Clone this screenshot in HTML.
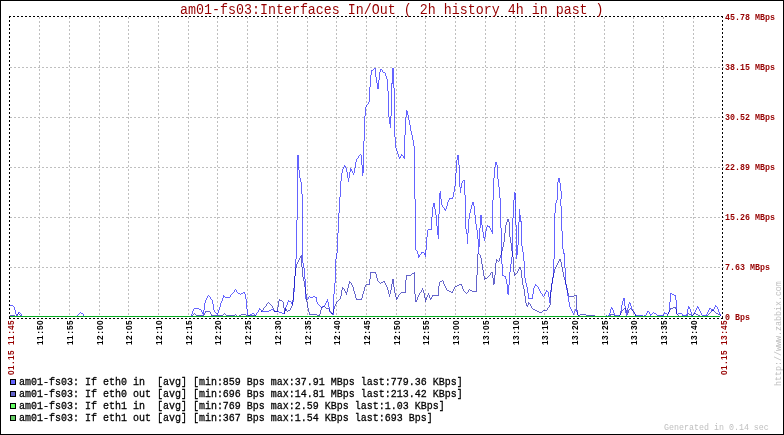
<!DOCTYPE html>
<html><head><meta charset="utf-8"><style>
html,body{margin:0;padding:0;background:#fff;}
#c{position:relative;width:784px;height:435px;overflow:hidden;background:#fff;}
#c svg{position:absolute;left:0;top:0;}
</style></head><body><div id="c">
<svg width="784" height="435" viewBox="0 0 784 435" shape-rendering="crispEdges">
<rect x="0.5" y="0.5" width="783" height="434" fill="#fff" stroke="#000"/>
<line x1="39.5" y1="17" x2="39.5" y2="317" stroke="#bfbfbf" stroke-dasharray="2 2"/>
<line x1="69.5" y1="17" x2="69.5" y2="317" stroke="#bfbfbf" stroke-dasharray="2 2"/>
<line x1="99.5" y1="17" x2="99.5" y2="317" stroke="#bfbfbf" stroke-dasharray="2 2"/>
<line x1="128.5" y1="17" x2="128.5" y2="317" stroke="#bfbfbf" stroke-dasharray="2 2"/>
<line x1="158.5" y1="17" x2="158.5" y2="317" stroke="#bfbfbf" stroke-dasharray="2 2"/>
<line x1="188.5" y1="17" x2="188.5" y2="317" stroke="#bfbfbf" stroke-dasharray="2 2"/>
<line x1="217.5" y1="17" x2="217.5" y2="317" stroke="#bfbfbf" stroke-dasharray="2 2"/>
<line x1="247.5" y1="17" x2="247.5" y2="317" stroke="#bfbfbf" stroke-dasharray="2 2"/>
<line x1="277.5" y1="17" x2="277.5" y2="317" stroke="#bfbfbf" stroke-dasharray="2 2"/>
<line x1="307.5" y1="17" x2="307.5" y2="317" stroke="#bfbfbf" stroke-dasharray="2 2"/>
<line x1="336.5" y1="17" x2="336.5" y2="317" stroke="#bfbfbf" stroke-dasharray="2 2"/>
<line x1="366.5" y1="17" x2="366.5" y2="317" stroke="#bfbfbf" stroke-dasharray="2 2"/>
<line x1="396.5" y1="17" x2="396.5" y2="317" stroke="#bfbfbf" stroke-dasharray="2 2"/>
<line x1="425.5" y1="17" x2="425.5" y2="317" stroke="#bfbfbf" stroke-dasharray="2 2"/>
<line x1="455.5" y1="17" x2="455.5" y2="317" stroke="#bfbfbf" stroke-dasharray="2 2"/>
<line x1="485.5" y1="17" x2="485.5" y2="317" stroke="#bfbfbf" stroke-dasharray="2 2"/>
<line x1="515.5" y1="17" x2="515.5" y2="317" stroke="#bfbfbf" stroke-dasharray="2 2"/>
<line x1="544.5" y1="17" x2="544.5" y2="317" stroke="#bfbfbf" stroke-dasharray="2 2"/>
<line x1="574.5" y1="17" x2="574.5" y2="317" stroke="#bfbfbf" stroke-dasharray="2 2"/>
<line x1="604.5" y1="17" x2="604.5" y2="317" stroke="#bfbfbf" stroke-dasharray="2 2"/>
<line x1="633.5" y1="17" x2="633.5" y2="317" stroke="#bfbfbf" stroke-dasharray="2 2"/>
<line x1="663.5" y1="17" x2="663.5" y2="317" stroke="#bfbfbf" stroke-dasharray="2 2"/>
<line x1="693.5" y1="17" x2="693.5" y2="317" stroke="#bfbfbf" stroke-dasharray="2 2"/>
<line x1="10" y1="67.5" x2="724" y2="67.5" stroke="#bfbfbf" stroke-dasharray="2 2"/>
<line x1="10" y1="117.5" x2="724" y2="117.5" stroke="#bfbfbf" stroke-dasharray="2 2"/>
<line x1="10" y1="167.5" x2="724" y2="167.5" stroke="#bfbfbf" stroke-dasharray="2 2"/>
<line x1="10" y1="217.5" x2="724" y2="217.5" stroke="#bfbfbf" stroke-dasharray="2 2"/>
<line x1="10" y1="267.5" x2="724" y2="267.5" stroke="#bfbfbf" stroke-dasharray="2 2"/>
<line x1="9" y1="16.5" x2="723" y2="16.5" stroke="#000" stroke-dasharray="2 2"/>
<line x1="9.5" y1="16" x2="9.5" y2="319" stroke="#000" stroke-dasharray="2 2"/>
<line x1="722.5" y1="16" x2="722.5" y2="319" stroke="#000" stroke-dasharray="2 2"/>
<line x1="9" y1="318.5" x2="723" y2="318.5" stroke="#000" stroke-dasharray="2 2"/>
<path d="M374 68h2v1h-2zM392 68h2v1h-2zM373 69h1v1h-1zM375 69h1v1h-1zM380 69h2v1h-2zM392 69h2v1h-2zM371 70h2v1h-2zM375 70h1v1h-1zM380 70h1v1h-1zM382 70h1v1h-1zM392 70h2v1h-2zM371 71h1v1h-1zM375 71h1v1h-1zM380 71h1v1h-1zM382 71h1v1h-1zM392 71h2v1h-2zM371 72h1v1h-1zM375 72h1v1h-1zM379 72h1v1h-1zM383 72h2v1h-2zM392 72h2v1h-2zM371 73h1v1h-1zM375 73h1v1h-1zM379 73h1v1h-1zM385 73h1v1h-1zM392 73h2v1h-2zM371 74h1v1h-1zM375 74h1v1h-1zM379 74h1v1h-1zM385 74h1v1h-1zM392 74h2v1h-2zM370 75h1v1h-1zM375 75h1v1h-1zM379 75h1v1h-1zM385 75h1v1h-1zM392 75h2v1h-2zM370 76h1v1h-1zM375 76h1v1h-1zM379 76h1v1h-1zM386 76h1v1h-1zM392 76h2v1h-2zM370 77h1v1h-1zM376 77h1v1h-1zM379 77h1v1h-1zM386 77h1v1h-1zM392 77h2v1h-2zM370 78h1v1h-1zM376 78h1v1h-1zM379 78h1v1h-1zM386 78h1v1h-1zM392 78h2v1h-2zM370 79h1v1h-1zM376 79h1v1h-1zM379 79h1v1h-1zM387 79h1v1h-1zM392 79h2v1h-2zM370 80h1v1h-1zM376 80h1v1h-1zM378 80h1v1h-1zM387 80h1v1h-1zM392 80h2v1h-2zM370 81h1v1h-1zM376 81h1v1h-1zM378 81h1v1h-1zM387 81h1v1h-1zM392 81h2v1h-2zM370 82h1v1h-1zM376 82h1v1h-1zM378 82h1v1h-1zM387 82h1v1h-1zM392 82h2v1h-2zM370 83h1v1h-1zM377 83h2v1h-2zM387 83h1v1h-1zM391 83h3v1h-3zM370 84h1v1h-1zM377 84h2v1h-2zM387 84h1v1h-1zM391 84h1v1h-1zM393 84h1v1h-1zM370 85h1v1h-1zM377 85h2v1h-2zM387 85h1v1h-1zM391 85h1v1h-1zM393 85h1v1h-1zM370 86h1v1h-1zM377 86h2v1h-2zM387 86h1v1h-1zM391 86h1v1h-1zM393 86h1v1h-1zM369 87h1v1h-1zM377 87h2v1h-2zM387 87h1v1h-1zM391 87h1v1h-1zM393 87h1v1h-1zM369 88h1v1h-1zM377 88h2v1h-2zM387 88h1v1h-1zM391 88h1v1h-1zM394 88h1v1h-1zM369 89h1v1h-1zM387 89h1v1h-1zM391 89h1v1h-1zM394 89h1v1h-1zM369 90h1v1h-1zM387 90h1v1h-1zM391 90h1v1h-1zM394 90h1v1h-1zM369 91h1v1h-1zM388 91h1v1h-1zM391 91h1v1h-1zM394 91h1v1h-1zM369 92h1v1h-1zM388 92h1v1h-1zM391 92h1v1h-1zM394 92h1v1h-1zM369 93h1v1h-1zM388 93h1v1h-1zM391 93h1v1h-1zM394 93h1v1h-1zM369 94h1v1h-1zM388 94h1v1h-1zM391 94h1v1h-1zM394 94h1v1h-1zM369 95h1v1h-1zM388 95h1v1h-1zM391 95h1v1h-1zM394 95h1v1h-1zM369 96h1v1h-1zM388 96h1v1h-1zM391 96h1v1h-1zM394 96h1v1h-1zM369 97h1v1h-1zM388 97h1v1h-1zM391 97h1v1h-1zM394 97h1v1h-1zM369 98h1v1h-1zM388 98h1v1h-1zM391 98h1v1h-1zM394 98h1v1h-1zM369 99h1v1h-1zM388 99h1v1h-1zM391 99h1v1h-1zM394 99h1v1h-1zM369 100h1v1h-1zM388 100h1v1h-1zM391 100h1v1h-1zM394 100h1v1h-1zM369 101h1v1h-1zM388 101h1v1h-1zM391 101h1v1h-1zM394 101h1v1h-1zM368 102h1v1h-1zM388 102h1v1h-1zM391 102h1v1h-1zM394 102h1v1h-1zM368 103h1v1h-1zM388 103h1v1h-1zM391 103h1v1h-1zM394 103h1v1h-1zM367 104h1v1h-1zM388 104h1v1h-1zM391 104h1v1h-1zM394 104h1v1h-1zM366 105h1v1h-1zM388 105h1v1h-1zM391 105h1v1h-1zM394 105h1v1h-1zM366 106h1v1h-1zM388 106h1v1h-1zM391 106h1v1h-1zM394 106h1v1h-1zM365 107h1v1h-1zM388 107h1v1h-1zM391 107h1v1h-1zM394 107h1v1h-1zM365 108h1v1h-1zM388 108h1v1h-1zM391 108h1v1h-1zM394 108h1v1h-1zM365 109h1v1h-1zM388 109h1v1h-1zM391 109h1v1h-1zM394 109h1v1h-1zM365 110h1v1h-1zM388 110h1v1h-1zM391 110h1v1h-1zM394 110h1v1h-1zM406 110h1v1h-1zM365 111h1v1h-1zM388 111h1v1h-1zM391 111h1v1h-1zM394 111h1v1h-1zM406 111h2v1h-2zM365 112h1v1h-1zM388 112h1v1h-1zM391 112h1v1h-1zM394 112h1v1h-1zM406 112h2v1h-2zM365 113h1v1h-1zM388 113h1v1h-1zM391 113h1v1h-1zM394 113h1v1h-1zM406 113h2v1h-2zM365 114h1v1h-1zM388 114h1v1h-1zM391 114h1v1h-1zM394 114h1v1h-1zM406 114h2v1h-2zM365 115h1v1h-1zM388 115h1v1h-1zM391 115h1v1h-1zM394 115h1v1h-1zM406 115h1v1h-1zM408 115h1v1h-1zM364 116h1v1h-1zM388 116h1v1h-1zM390 116h1v1h-1zM394 116h1v1h-1zM406 116h1v1h-1zM408 116h1v1h-1zM364 117h1v1h-1zM389 117h2v1h-2zM394 117h1v1h-1zM405 117h1v1h-1zM408 117h1v1h-1zM364 118h1v1h-1zM389 118h2v1h-2zM394 118h1v1h-1zM405 118h1v1h-1zM408 118h1v1h-1zM364 119h1v1h-1zM389 119h2v1h-2zM394 119h1v1h-1zM405 119h1v1h-1zM408 119h1v1h-1zM364 120h1v1h-1zM389 120h2v1h-2zM394 120h1v1h-1zM405 120h1v1h-1zM409 120h1v1h-1zM364 121h1v1h-1zM389 121h2v1h-2zM394 121h1v1h-1zM405 121h1v1h-1zM409 121h1v1h-1zM364 122h1v1h-1zM389 122h2v1h-2zM394 122h1v1h-1zM405 122h1v1h-1zM409 122h1v1h-1zM364 123h1v1h-1zM389 123h2v1h-2zM394 123h1v1h-1zM405 123h1v1h-1zM409 123h1v1h-1zM364 124h1v1h-1zM390 124h1v1h-1zM394 124h1v1h-1zM405 124h1v1h-1zM409 124h1v1h-1zM364 125h1v1h-1zM390 125h1v1h-1zM394 125h1v1h-1zM405 125h1v1h-1zM410 125h1v1h-1zM364 126h1v1h-1zM390 126h1v1h-1zM394 126h1v1h-1zM405 126h1v1h-1zM410 126h1v1h-1zM364 127h1v1h-1zM390 127h1v1h-1zM394 127h1v1h-1zM405 127h1v1h-1zM410 127h1v1h-1zM364 128h1v1h-1zM394 128h1v1h-1zM405 128h1v1h-1zM410 128h1v1h-1zM364 129h1v1h-1zM394 129h1v1h-1zM405 129h1v1h-1zM410 129h1v1h-1zM364 130h1v1h-1zM394 130h1v1h-1zM405 130h1v1h-1zM410 130h1v1h-1zM364 131h1v1h-1zM394 131h1v1h-1zM405 131h1v1h-1zM411 131h1v1h-1zM364 132h1v1h-1zM394 132h1v1h-1zM405 132h1v1h-1zM411 132h1v1h-1zM364 133h1v1h-1zM394 133h1v1h-1zM405 133h1v1h-1zM411 133h1v1h-1zM364 134h1v1h-1zM394 134h1v1h-1zM405 134h1v1h-1zM411 134h1v1h-1zM364 135h1v1h-1zM394 135h1v1h-1zM404 135h1v1h-1zM412 135h1v1h-1zM364 136h1v1h-1zM394 136h1v1h-1zM404 136h1v1h-1zM412 136h1v1h-1zM364 137h1v1h-1zM395 137h1v1h-1zM404 137h1v1h-1zM412 137h1v1h-1zM364 138h1v1h-1zM395 138h1v1h-1zM404 138h1v1h-1zM412 138h1v1h-1zM364 139h1v1h-1zM395 139h1v1h-1zM404 139h1v1h-1zM412 139h1v1h-1zM364 140h1v1h-1zM395 140h1v1h-1zM404 140h1v1h-1zM413 140h1v1h-1zM363 141h1v1h-1zM395 141h1v1h-1zM404 141h1v1h-1zM413 141h1v1h-1zM363 142h1v1h-1zM395 142h1v1h-1zM404 142h1v1h-1zM413 142h1v1h-1zM363 143h1v1h-1zM395 143h1v1h-1zM404 143h1v1h-1zM413 143h1v1h-1zM363 144h1v1h-1zM395 144h1v1h-1zM404 144h1v1h-1zM413 144h1v1h-1zM363 145h1v1h-1zM395 145h1v1h-1zM404 145h1v1h-1zM413 145h1v1h-1zM363 146h1v1h-1zM395 146h1v1h-1zM404 146h1v1h-1zM414 146h1v1h-1zM363 147h1v1h-1zM395 147h1v1h-1zM404 147h1v1h-1zM414 147h1v1h-1zM363 148h1v1h-1zM396 148h1v1h-1zM404 148h1v1h-1zM414 148h1v1h-1zM363 149h1v1h-1zM396 149h1v1h-1zM404 149h1v1h-1zM414 149h1v1h-1zM363 150h1v1h-1zM396 150h1v1h-1zM404 150h1v1h-1zM414 150h1v1h-1zM363 151h1v1h-1zM397 151h1v1h-1zM404 151h1v1h-1zM414 151h1v1h-1zM363 152h1v1h-1zM397 152h1v1h-1zM404 152h1v1h-1zM414 152h1v1h-1zM363 153h1v1h-1zM397 153h1v1h-1zM404 153h1v1h-1zM414 153h1v1h-1zM360 154h1v1h-1zM363 154h1v1h-1zM398 154h1v1h-1zM401 154h1v1h-1zM404 154h1v1h-1zM414 154h1v1h-1zM297 155h2v1h-2zM359 155h1v1h-1zM361 155h1v1h-1zM363 155h1v1h-1zM398 155h1v1h-1zM401 155h2v1h-2zM404 155h1v1h-1zM414 155h1v1h-1zM457 155h2v1h-2zM297 156h2v1h-2zM358 156h1v1h-1zM361 156h1v1h-1zM363 156h1v1h-1zM398 156h1v1h-1zM400 156h1v1h-1zM403 156h2v1h-2zM414 156h1v1h-1zM457 156h2v1h-2zM297 157h2v1h-2zM358 157h1v1h-1zM361 157h1v1h-1zM363 157h1v1h-1zM399 157h2v1h-2zM403 157h2v1h-2zM414 157h1v1h-1zM457 157h2v1h-2zM297 158h2v1h-2zM357 158h1v1h-1zM361 158h1v1h-1zM363 158h1v1h-1zM399 158h1v1h-1zM404 158h1v1h-1zM414 158h1v1h-1zM457 158h2v1h-2zM297 159h2v1h-2zM356 159h1v1h-1zM361 159h1v1h-1zM363 159h1v1h-1zM414 159h1v1h-1zM457 159h2v1h-2zM297 160h2v1h-2zM356 160h1v1h-1zM361 160h1v1h-1zM363 160h1v1h-1zM414 160h1v1h-1zM456 160h1v1h-1zM458 160h1v1h-1zM297 161h2v1h-2zM356 161h1v1h-1zM361 161h1v1h-1zM363 161h1v1h-1zM414 161h1v1h-1zM456 161h1v1h-1zM458 161h1v1h-1zM297 162h2v1h-2zM355 162h1v1h-1zM361 162h1v1h-1zM363 162h1v1h-1zM414 162h1v1h-1zM456 162h1v1h-1zM458 162h1v1h-1zM495 162h2v1h-2zM297 163h2v1h-2zM355 163h1v1h-1zM361 163h1v1h-1zM363 163h1v1h-1zM414 163h1v1h-1zM456 163h1v1h-1zM458 163h1v1h-1zM495 163h2v1h-2zM297 164h2v1h-2zM355 164h1v1h-1zM361 164h1v1h-1zM363 164h1v1h-1zM414 164h1v1h-1zM456 164h1v1h-1zM458 164h1v1h-1zM495 164h2v1h-2zM297 165h2v1h-2zM344 165h1v1h-1zM355 165h1v1h-1zM362 165h2v1h-2zM414 165h1v1h-1zM456 165h1v1h-1zM459 165h1v1h-1zM495 165h1v1h-1zM497 165h1v1h-1zM297 166h2v1h-2zM344 166h2v1h-2zM355 166h1v1h-1zM362 166h2v1h-2zM414 166h1v1h-1zM456 166h1v1h-1zM459 166h1v1h-1zM495 166h1v1h-1zM497 166h1v1h-1zM297 167h2v1h-2zM343 167h1v1h-1zM345 167h1v1h-1zM355 167h1v1h-1zM362 167h2v1h-2zM414 167h1v1h-1zM456 167h1v1h-1zM459 167h1v1h-1zM494 167h1v1h-1zM497 167h1v1h-1zM297 168h2v1h-2zM343 168h1v1h-1zM346 168h1v1h-1zM350 168h1v1h-1zM354 168h1v1h-1zM362 168h2v1h-2zM414 168h1v1h-1zM456 168h1v1h-1zM459 168h1v1h-1zM494 168h1v1h-1zM497 168h1v1h-1zM297 169h2v1h-2zM342 169h1v1h-1zM346 169h1v1h-1zM350 169h2v1h-2zM354 169h1v1h-1zM362 169h2v1h-2zM414 169h1v1h-1zM456 169h1v1h-1zM459 169h1v1h-1zM494 169h1v1h-1zM497 169h1v1h-1zM297 170h1v1h-1zM299 170h1v1h-1zM342 170h1v1h-1zM346 170h1v1h-1zM350 170h2v1h-2zM354 170h1v1h-1zM362 170h2v1h-2zM414 170h1v1h-1zM456 170h1v1h-1zM459 170h1v1h-1zM494 170h1v1h-1zM497 170h1v1h-1zM297 171h1v1h-1zM299 171h1v1h-1zM342 171h1v1h-1zM346 171h1v1h-1zM350 171h1v1h-1zM352 171h1v1h-1zM354 171h1v1h-1zM362 171h2v1h-2zM414 171h1v1h-1zM456 171h1v1h-1zM459 171h1v1h-1zM494 171h1v1h-1zM497 171h1v1h-1zM297 172h1v1h-1zM299 172h1v1h-1zM342 172h1v1h-1zM347 172h1v1h-1zM349 172h1v1h-1zM352 172h1v1h-1zM354 172h1v1h-1zM362 172h2v1h-2zM414 172h1v1h-1zM456 172h1v1h-1zM459 172h1v1h-1zM494 172h1v1h-1zM497 172h1v1h-1zM297 173h1v1h-1zM299 173h1v1h-1zM341 173h1v1h-1zM347 173h1v1h-1zM349 173h1v1h-1zM353 173h1v1h-1zM362 173h1v1h-1zM414 173h1v1h-1zM455 173h1v1h-1zM459 173h1v1h-1zM494 173h1v1h-1zM497 173h1v1h-1zM297 174h1v1h-1zM299 174h1v1h-1zM341 174h1v1h-1zM347 174h1v1h-1zM349 174h1v1h-1zM353 174h1v1h-1zM362 174h1v1h-1zM414 174h1v1h-1zM455 174h1v1h-1zM459 174h1v1h-1zM494 174h1v1h-1zM497 174h1v1h-1zM297 175h1v1h-1zM299 175h1v1h-1zM341 175h1v1h-1zM347 175h1v1h-1zM349 175h1v1h-1zM362 175h1v1h-1zM414 175h1v1h-1zM455 175h1v1h-1zM459 175h1v1h-1zM494 175h1v1h-1zM497 175h1v1h-1zM297 176h1v1h-1zM299 176h1v1h-1zM341 176h1v1h-1zM347 176h1v1h-1zM349 176h1v1h-1zM414 176h1v1h-1zM455 176h1v1h-1zM459 176h1v1h-1zM494 176h1v1h-1zM497 176h1v1h-1zM297 177h1v1h-1zM299 177h1v1h-1zM341 177h1v1h-1zM347 177h1v1h-1zM349 177h1v1h-1zM414 177h1v1h-1zM455 177h1v1h-1zM459 177h1v1h-1zM494 177h1v1h-1zM497 177h1v1h-1zM297 178h1v1h-1zM300 178h1v1h-1zM341 178h1v1h-1zM348 178h1v1h-1zM414 178h1v1h-1zM455 178h1v1h-1zM459 178h1v1h-1zM493 178h1v1h-1zM497 178h1v1h-1zM558 178h2v1h-2zM297 179h1v1h-1zM300 179h1v1h-1zM341 179h1v1h-1zM348 179h1v1h-1zM414 179h1v1h-1zM455 179h1v1h-1zM459 179h1v1h-1zM493 179h1v1h-1zM498 179h1v1h-1zM558 179h2v1h-2zM297 180h1v1h-1zM300 180h1v1h-1zM341 180h1v1h-1zM348 180h1v1h-1zM414 180h1v1h-1zM455 180h1v1h-1zM459 180h1v1h-1zM463 180h2v1h-2zM493 180h1v1h-1zM498 180h1v1h-1zM558 180h2v1h-2zM297 181h1v1h-1zM300 181h1v1h-1zM340 181h1v1h-1zM348 181h1v1h-1zM414 181h1v1h-1zM455 181h1v1h-1zM459 181h1v1h-1zM462 181h1v1h-1zM464 181h1v1h-1zM493 181h1v1h-1zM498 181h1v1h-1zM558 181h2v1h-2zM297 182h1v1h-1zM301 182h1v1h-1zM340 182h1v1h-1zM414 182h1v1h-1zM455 182h1v1h-1zM459 182h1v1h-1zM462 182h1v1h-1zM464 182h1v1h-1zM493 182h1v1h-1zM498 182h1v1h-1zM557 182h1v1h-1zM559 182h1v1h-1zM297 183h1v1h-1zM301 183h1v1h-1zM340 183h1v1h-1zM414 183h1v1h-1zM455 183h1v1h-1zM459 183h1v1h-1zM461 183h1v1h-1zM464 183h1v1h-1zM493 183h1v1h-1zM498 183h1v1h-1zM557 183h1v1h-1zM560 183h1v1h-1zM297 184h1v1h-1zM301 184h1v1h-1zM340 184h1v1h-1zM414 184h1v1h-1zM455 184h1v1h-1zM459 184h1v1h-1zM461 184h1v1h-1zM464 184h1v1h-1zM493 184h1v1h-1zM498 184h1v1h-1zM557 184h1v1h-1zM560 184h1v1h-1zM297 185h1v1h-1zM301 185h1v1h-1zM340 185h1v1h-1zM414 185h1v1h-1zM455 185h1v1h-1zM459 185h1v1h-1zM461 185h1v1h-1zM464 185h1v1h-1zM493 185h1v1h-1zM498 185h1v1h-1zM557 185h1v1h-1zM560 185h1v1h-1zM297 186h1v1h-1zM301 186h1v1h-1zM340 186h1v1h-1zM414 186h1v1h-1zM454 186h1v1h-1zM459 186h1v1h-1zM461 186h1v1h-1zM464 186h1v1h-1zM493 186h1v1h-1zM498 186h1v1h-1zM557 186h1v1h-1zM560 186h1v1h-1zM297 187h1v1h-1zM301 187h1v1h-1zM340 187h1v1h-1zM414 187h1v1h-1zM454 187h1v1h-1zM460 187h2v1h-2zM464 187h1v1h-1zM493 187h1v1h-1zM499 187h1v1h-1zM557 187h1v1h-1zM560 187h1v1h-1zM297 188h1v1h-1zM301 188h1v1h-1zM340 188h1v1h-1zM414 188h1v1h-1zM454 188h1v1h-1zM460 188h1v1h-1zM464 188h1v1h-1zM493 188h1v1h-1zM499 188h1v1h-1zM557 188h1v1h-1zM560 188h1v1h-1zM297 189h1v1h-1zM301 189h1v1h-1zM340 189h1v1h-1zM414 189h1v1h-1zM454 189h1v1h-1zM460 189h1v1h-1zM464 189h1v1h-1zM493 189h1v1h-1zM499 189h1v1h-1zM557 189h1v1h-1zM560 189h1v1h-1zM297 190h1v1h-1zM301 190h1v1h-1zM340 190h1v1h-1zM414 190h1v1h-1zM454 190h1v1h-1zM460 190h1v1h-1zM464 190h1v1h-1zM493 190h1v1h-1zM499 190h1v1h-1zM557 190h1v1h-1zM560 190h1v1h-1zM297 191h1v1h-1zM301 191h1v1h-1zM340 191h1v1h-1zM414 191h1v1h-1zM440 191h1v1h-1zM454 191h1v1h-1zM460 191h1v1h-1zM464 191h1v1h-1zM493 191h1v1h-1zM499 191h1v1h-1zM557 191h1v1h-1zM561 191h1v1h-1zM297 192h1v1h-1zM301 192h1v1h-1zM340 192h1v1h-1zM414 192h1v1h-1zM440 192h1v1h-1zM453 192h1v1h-1zM460 192h1v1h-1zM464 192h1v1h-1zM493 192h1v1h-1zM499 192h1v1h-1zM514 192h1v1h-1zM557 192h1v1h-1zM561 192h1v1h-1zM297 193h1v1h-1zM301 193h1v1h-1zM340 193h1v1h-1zM414 193h1v1h-1zM439 193h2v1h-2zM453 193h1v1h-1zM464 193h1v1h-1zM493 193h1v1h-1zM499 193h1v1h-1zM514 193h2v1h-2zM557 193h1v1h-1zM561 193h1v1h-1zM297 194h1v1h-1zM302 194h1v1h-1zM340 194h1v1h-1zM414 194h1v1h-1zM439 194h2v1h-2zM453 194h1v1h-1zM464 194h1v1h-1zM493 194h1v1h-1zM499 194h1v1h-1zM514 194h2v1h-2zM557 194h1v1h-1zM561 194h1v1h-1zM297 195h1v1h-1zM302 195h1v1h-1zM340 195h1v1h-1zM414 195h1v1h-1zM439 195h2v1h-2zM453 195h1v1h-1zM465 195h1v1h-1zM493 195h1v1h-1zM499 195h1v1h-1zM514 195h2v1h-2zM557 195h1v1h-1zM561 195h1v1h-1zM297 196h1v1h-1zM302 196h1v1h-1zM340 196h1v1h-1zM414 196h1v1h-1zM439 196h2v1h-2zM453 196h1v1h-1zM465 196h1v1h-1zM493 196h1v1h-1zM499 196h1v1h-1zM514 196h2v1h-2zM557 196h1v1h-1zM561 196h1v1h-1zM297 197h1v1h-1zM302 197h1v1h-1zM339 197h1v1h-1zM414 197h1v1h-1zM439 197h2v1h-2zM452 197h1v1h-1zM465 197h1v1h-1zM493 197h1v1h-1zM499 197h1v1h-1zM514 197h2v1h-2zM557 197h1v1h-1zM561 197h1v1h-1zM297 198h1v1h-1zM302 198h1v1h-1zM339 198h1v1h-1zM414 198h1v1h-1zM439 198h2v1h-2zM449 198h4v1h-4zM465 198h1v1h-1zM493 198h1v1h-1zM500 198h1v1h-1zM514 198h2v1h-2zM557 198h1v1h-1zM561 198h1v1h-1zM297 199h1v1h-1zM302 199h1v1h-1zM339 199h1v1h-1zM415 199h1v1h-1zM439 199h1v1h-1zM441 199h1v1h-1zM449 199h1v1h-1zM465 199h1v1h-1zM493 199h1v1h-1zM500 199h1v1h-1zM514 199h2v1h-2zM557 199h1v1h-1zM560 199h1v1h-1zM297 200h1v1h-1zM302 200h1v1h-1zM339 200h1v1h-1zM415 200h1v1h-1zM439 200h1v1h-1zM441 200h1v1h-1zM448 200h1v1h-1zM465 200h1v1h-1zM492 200h1v1h-1zM500 200h1v1h-1zM513 200h1v1h-1zM515 200h1v1h-1zM556 200h1v1h-1zM560 200h1v1h-1zM297 201h1v1h-1zM302 201h1v1h-1zM339 201h1v1h-1zM415 201h1v1h-1zM439 201h1v1h-1zM441 201h1v1h-1zM448 201h1v1h-1zM465 201h1v1h-1zM492 201h1v1h-1zM500 201h1v1h-1zM513 201h1v1h-1zM515 201h1v1h-1zM556 201h1v1h-1zM560 201h1v1h-1zM297 202h1v1h-1zM302 202h1v1h-1zM339 202h1v1h-1zM415 202h1v1h-1zM439 202h1v1h-1zM441 202h1v1h-1zM447 202h1v1h-1zM465 202h1v1h-1zM472 202h2v1h-2zM492 202h1v1h-1zM500 202h1v1h-1zM513 202h1v1h-1zM515 202h1v1h-1zM556 202h1v1h-1zM560 202h1v1h-1zM297 203h1v1h-1zM302 203h1v1h-1zM339 203h1v1h-1zM415 203h1v1h-1zM433 203h2v1h-2zM439 203h1v1h-1zM441 203h1v1h-1zM447 203h1v1h-1zM465 203h1v1h-1zM472 203h2v1h-2zM492 203h1v1h-1zM500 203h1v1h-1zM513 203h1v1h-1zM515 203h1v1h-1zM555 203h1v1h-1zM560 203h1v1h-1zM297 204h1v1h-1zM302 204h1v1h-1zM339 204h1v1h-1zM415 204h1v1h-1zM433 204h2v1h-2zM439 204h1v1h-1zM441 204h1v1h-1zM447 204h1v1h-1zM465 204h1v1h-1zM472 204h2v1h-2zM492 204h1v1h-1zM500 204h1v1h-1zM513 204h1v1h-1zM515 204h1v1h-1zM555 204h1v1h-1zM560 204h1v1h-1zM297 205h1v1h-1zM302 205h1v1h-1zM339 205h1v1h-1zM415 205h1v1h-1zM433 205h2v1h-2zM439 205h1v1h-1zM442 205h1v1h-1zM447 205h1v1h-1zM465 205h1v1h-1zM471 205h1v1h-1zM473 205h1v1h-1zM492 205h1v1h-1zM500 205h1v1h-1zM513 205h1v1h-1zM515 205h1v1h-1zM555 205h1v1h-1zM560 205h1v1h-1zM297 206h1v1h-1zM302 206h1v1h-1zM339 206h1v1h-1zM415 206h1v1h-1zM433 206h2v1h-2zM439 206h1v1h-1zM442 206h1v1h-1zM446 206h1v1h-1zM465 206h1v1h-1zM471 206h1v1h-1zM474 206h1v1h-1zM492 206h1v1h-1zM500 206h1v1h-1zM513 206h1v1h-1zM515 206h1v1h-1zM555 206h1v1h-1zM561 206h1v1h-1zM297 207h1v1h-1zM302 207h1v1h-1zM339 207h1v1h-1zM415 207h1v1h-1zM432 207h1v1h-1zM434 207h1v1h-1zM439 207h1v1h-1zM443 207h1v1h-1zM446 207h1v1h-1zM465 207h1v1h-1zM471 207h1v1h-1zM474 207h1v1h-1zM492 207h1v1h-1zM500 207h1v1h-1zM513 207h1v1h-1zM515 207h1v1h-1zM555 207h1v1h-1zM561 207h1v1h-1zM297 208h1v1h-1zM302 208h1v1h-1zM339 208h1v1h-1zM415 208h1v1h-1zM432 208h1v1h-1zM434 208h1v1h-1zM439 208h1v1h-1zM444 208h1v1h-1zM446 208h1v1h-1zM465 208h1v1h-1zM471 208h1v1h-1zM474 208h1v1h-1zM492 208h1v1h-1zM500 208h1v1h-1zM513 208h1v1h-1zM515 208h1v1h-1zM555 208h1v1h-1zM561 208h1v1h-1zM297 209h1v1h-1zM302 209h1v1h-1zM339 209h1v1h-1zM415 209h1v1h-1zM432 209h1v1h-1zM435 209h1v1h-1zM439 209h1v1h-1zM444 209h2v1h-2zM465 209h1v1h-1zM470 209h1v1h-1zM474 209h1v1h-1zM492 209h1v1h-1zM500 209h1v1h-1zM513 209h1v1h-1zM515 209h1v1h-1zM519 209h1v1h-1zM555 209h1v1h-1zM561 209h1v1h-1zM297 210h1v1h-1zM302 210h1v1h-1zM339 210h1v1h-1zM415 210h1v1h-1zM432 210h1v1h-1zM435 210h1v1h-1zM439 210h1v1h-1zM445 210h1v1h-1zM465 210h1v1h-1zM470 210h1v1h-1zM474 210h1v1h-1zM492 210h1v1h-1zM500 210h1v1h-1zM513 210h1v1h-1zM515 210h1v1h-1zM519 210h1v1h-1zM555 210h1v1h-1zM561 210h1v1h-1zM297 211h1v1h-1zM302 211h1v1h-1zM339 211h1v1h-1zM415 211h1v1h-1zM432 211h1v1h-1zM435 211h1v1h-1zM439 211h1v1h-1zM465 211h1v1h-1zM470 211h1v1h-1zM474 211h1v1h-1zM492 211h1v1h-1zM500 211h1v1h-1zM513 211h1v1h-1zM515 211h1v1h-1zM519 211h1v1h-1zM555 211h1v1h-1zM561 211h1v1h-1zM297 212h1v1h-1zM302 212h1v1h-1zM339 212h1v1h-1zM415 212h1v1h-1zM432 212h1v1h-1zM435 212h1v1h-1zM439 212h1v1h-1zM465 212h1v1h-1zM470 212h1v1h-1zM474 212h1v1h-1zM492 212h1v1h-1zM500 212h1v1h-1zM513 212h1v1h-1zM515 212h1v1h-1zM519 212h1v1h-1zM555 212h1v1h-1zM561 212h1v1h-1zM297 213h1v1h-1zM302 213h1v1h-1zM338 213h1v1h-1zM415 213h1v1h-1zM432 213h1v1h-1zM435 213h1v1h-1zM439 213h1v1h-1zM465 213h1v1h-1zM469 213h1v1h-1zM474 213h1v1h-1zM492 213h1v1h-1zM500 213h1v1h-1zM513 213h1v1h-1zM515 213h1v1h-1zM519 213h1v1h-1zM554 213h1v1h-1zM561 213h1v1h-1zM297 214h1v1h-1zM302 214h1v1h-1zM338 214h1v1h-1zM415 214h1v1h-1zM432 214h1v1h-1zM435 214h1v1h-1zM438 214h1v1h-1zM465 214h1v1h-1zM469 214h1v1h-1zM474 214h1v1h-1zM492 214h1v1h-1zM500 214h1v1h-1zM513 214h1v1h-1zM515 214h1v1h-1zM519 214h1v1h-1zM554 214h1v1h-1zM561 214h1v1h-1zM297 215h1v1h-1zM302 215h1v1h-1zM338 215h1v1h-1zM415 215h1v1h-1zM432 215h1v1h-1zM436 215h1v1h-1zM438 215h1v1h-1zM465 215h1v1h-1zM469 215h1v1h-1zM475 215h1v1h-1zM480 215h2v1h-2zM492 215h1v1h-1zM500 215h1v1h-1zM513 215h1v1h-1zM515 215h1v1h-1zM519 215h2v1h-2zM554 215h1v1h-1zM561 215h1v1h-1zM297 216h1v1h-1zM302 216h1v1h-1zM338 216h1v1h-1zM415 216h1v1h-1zM432 216h1v1h-1zM436 216h1v1h-1zM438 216h1v1h-1zM465 216h1v1h-1zM469 216h1v1h-1zM475 216h1v1h-1zM480 216h2v1h-2zM492 216h1v1h-1zM500 216h1v1h-1zM513 216h1v1h-1zM515 216h1v1h-1zM519 216h2v1h-2zM554 216h1v1h-1zM561 216h1v1h-1zM297 217h1v1h-1zM302 217h1v1h-1zM338 217h1v1h-1zM415 217h1v1h-1zM431 217h1v1h-1zM436 217h1v1h-1zM438 217h1v1h-1zM465 217h1v1h-1zM469 217h1v1h-1zM475 217h1v1h-1zM480 217h2v1h-2zM492 217h1v1h-1zM500 217h1v1h-1zM513 217h1v1h-1zM515 217h1v1h-1zM519 217h2v1h-2zM554 217h1v1h-1zM561 217h1v1h-1zM297 218h1v1h-1zM302 218h1v1h-1zM338 218h1v1h-1zM415 218h1v1h-1zM431 218h1v1h-1zM436 218h1v1h-1zM438 218h1v1h-1zM465 218h1v1h-1zM469 218h1v1h-1zM475 218h1v1h-1zM480 218h2v1h-2zM492 218h1v1h-1zM500 218h1v1h-1zM512 218h1v1h-1zM515 218h1v1h-1zM519 218h2v1h-2zM554 218h1v1h-1zM561 218h1v1h-1zM297 219h1v1h-1zM302 219h1v1h-1zM338 219h1v1h-1zM415 219h1v1h-1zM431 219h1v1h-1zM436 219h1v1h-1zM438 219h1v1h-1zM465 219h1v1h-1zM468 219h1v1h-1zM475 219h1v1h-1zM480 219h2v1h-2zM492 219h1v1h-1zM500 219h1v1h-1zM512 219h1v1h-1zM515 219h1v1h-1zM519 219h2v1h-2zM554 219h1v1h-1zM561 219h1v1h-1zM296 220h1v1h-1zM302 220h1v1h-1zM338 220h1v1h-1zM415 220h1v1h-1zM431 220h1v1h-1zM436 220h1v1h-1zM438 220h1v1h-1zM465 220h1v1h-1zM468 220h1v1h-1zM475 220h1v1h-1zM480 220h2v1h-2zM492 220h1v1h-1zM500 220h1v1h-1zM512 220h1v1h-1zM515 220h1v1h-1zM519 220h2v1h-2zM554 220h1v1h-1zM561 220h1v1h-1zM296 221h1v1h-1zM302 221h1v1h-1zM338 221h1v1h-1zM415 221h1v1h-1zM431 221h1v1h-1zM436 221h1v1h-1zM438 221h1v1h-1zM465 221h1v1h-1zM468 221h1v1h-1zM475 221h1v1h-1zM480 221h2v1h-2zM492 221h1v1h-1zM500 221h1v1h-1zM512 221h1v1h-1zM515 221h1v1h-1zM519 221h3v1h-3zM554 221h1v1h-1zM561 221h1v1h-1zM296 222h1v1h-1zM302 222h1v1h-1zM338 222h1v1h-1zM415 222h1v1h-1zM431 222h1v1h-1zM436 222h1v1h-1zM438 222h1v1h-1zM465 222h1v1h-1zM468 222h1v1h-1zM475 222h1v1h-1zM480 222h2v1h-2zM492 222h1v1h-1zM500 222h1v1h-1zM512 222h1v1h-1zM515 222h1v1h-1zM518 222h1v1h-1zM521 222h1v1h-1zM554 222h1v1h-1zM561 222h1v1h-1zM296 223h1v1h-1zM302 223h1v1h-1zM338 223h1v1h-1zM415 223h1v1h-1zM431 223h1v1h-1zM436 223h1v1h-1zM438 223h1v1h-1zM465 223h1v1h-1zM468 223h1v1h-1zM475 223h1v1h-1zM480 223h2v1h-2zM492 223h1v1h-1zM500 223h1v1h-1zM512 223h1v1h-1zM515 223h1v1h-1zM518 223h1v1h-1zM521 223h1v1h-1zM554 223h1v1h-1zM561 223h1v1h-1zM296 224h1v1h-1zM302 224h1v1h-1zM338 224h1v1h-1zM415 224h1v1h-1zM431 224h1v1h-1zM436 224h1v1h-1zM438 224h1v1h-1zM465 224h1v1h-1zM468 224h1v1h-1zM476 224h1v1h-1zM480 224h2v1h-2zM492 224h1v1h-1zM500 224h1v1h-1zM512 224h1v1h-1zM515 224h1v1h-1zM518 224h1v1h-1zM521 224h1v1h-1zM554 224h1v1h-1zM561 224h1v1h-1zM296 225h1v1h-1zM302 225h1v1h-1zM338 225h1v1h-1zM415 225h1v1h-1zM431 225h1v1h-1zM436 225h1v1h-1zM438 225h1v1h-1zM465 225h1v1h-1zM468 225h1v1h-1zM476 225h1v1h-1zM480 225h1v1h-1zM482 225h1v1h-1zM487 225h1v1h-1zM492 225h1v1h-1zM500 225h1v1h-1zM512 225h1v1h-1zM516 225h1v1h-1zM518 225h1v1h-1zM521 225h1v1h-1zM554 225h1v1h-1zM561 225h1v1h-1zM296 226h1v1h-1zM302 226h1v1h-1zM338 226h1v1h-1zM415 226h1v1h-1zM431 226h1v1h-1zM437 226h2v1h-2zM465 226h1v1h-1zM468 226h1v1h-1zM476 226h1v1h-1zM480 226h1v1h-1zM482 226h1v1h-1zM487 226h3v1h-3zM492 226h1v1h-1zM500 226h1v1h-1zM512 226h1v1h-1zM516 226h1v1h-1zM518 226h1v1h-1zM521 226h1v1h-1zM554 226h1v1h-1zM561 226h1v1h-1zM296 227h1v1h-1zM302 227h1v1h-1zM338 227h1v1h-1zM415 227h1v1h-1zM431 227h1v1h-1zM437 227h2v1h-2zM465 227h1v1h-1zM468 227h1v1h-1zM476 227h1v1h-1zM480 227h1v1h-1zM482 227h1v1h-1zM486 227h1v1h-1zM489 227h1v1h-1zM492 227h1v1h-1zM500 227h1v1h-1zM512 227h1v1h-1zM516 227h1v1h-1zM518 227h1v1h-1zM521 227h1v1h-1zM554 227h1v1h-1zM561 227h1v1h-1zM296 228h1v1h-1zM302 228h1v1h-1zM338 228h1v1h-1zM415 228h1v1h-1zM431 228h1v1h-1zM437 228h2v1h-2zM465 228h1v1h-1zM468 228h1v1h-1zM476 228h1v1h-1zM479 228h1v1h-1zM482 228h1v1h-1zM486 228h1v1h-1zM490 228h1v1h-1zM492 228h1v1h-1zM501 228h1v1h-1zM512 228h1v1h-1zM516 228h1v1h-1zM518 228h1v1h-1zM521 228h1v1h-1zM554 228h1v1h-1zM561 228h1v1h-1zM296 229h1v1h-1zM302 229h1v1h-1zM338 229h1v1h-1zM415 229h1v1h-1zM428 229h4v1h-4zM437 229h2v1h-2zM466 229h1v1h-1zM468 229h1v1h-1zM476 229h1v1h-1zM479 229h1v1h-1zM482 229h1v1h-1zM486 229h1v1h-1zM490 229h1v1h-1zM492 229h1v1h-1zM501 229h1v1h-1zM512 229h1v1h-1zM516 229h1v1h-1zM518 229h1v1h-1zM521 229h1v1h-1zM554 229h1v1h-1zM561 229h1v1h-1zM296 230h1v1h-1zM302 230h1v1h-1zM338 230h1v1h-1zM415 230h1v1h-1zM427 230h1v1h-1zM437 230h2v1h-2zM466 230h1v1h-1zM468 230h1v1h-1zM477 230h1v1h-1zM479 230h1v1h-1zM482 230h1v1h-1zM486 230h1v1h-1zM491 230h2v1h-2zM501 230h1v1h-1zM512 230h1v1h-1zM516 230h1v1h-1zM518 230h1v1h-1zM521 230h1v1h-1zM554 230h1v1h-1zM561 230h1v1h-1zM296 231h1v1h-1zM302 231h1v1h-1zM338 231h1v1h-1zM415 231h1v1h-1zM427 231h1v1h-1zM437 231h2v1h-2zM466 231h1v1h-1zM468 231h1v1h-1zM477 231h1v1h-1zM479 231h1v1h-1zM482 231h1v1h-1zM485 231h1v1h-1zM491 231h2v1h-2zM501 231h1v1h-1zM512 231h1v1h-1zM516 231h1v1h-1zM518 231h1v1h-1zM521 231h1v1h-1zM554 231h1v1h-1zM562 231h1v1h-1zM296 232h1v1h-1zM302 232h1v1h-1zM338 232h1v1h-1zM415 232h1v1h-1zM427 232h1v1h-1zM437 232h2v1h-2zM466 232h1v1h-1zM468 232h1v1h-1zM477 232h1v1h-1zM479 232h1v1h-1zM483 232h1v1h-1zM485 232h1v1h-1zM492 232h1v1h-1zM501 232h1v1h-1zM512 232h1v1h-1zM516 232h1v1h-1zM518 232h1v1h-1zM521 232h1v1h-1zM554 232h1v1h-1zM562 232h1v1h-1zM296 233h1v1h-1zM302 233h1v1h-1zM337 233h1v1h-1zM415 233h1v1h-1zM427 233h1v1h-1zM437 233h2v1h-2zM466 233h2v1h-2zM477 233h1v1h-1zM479 233h1v1h-1zM483 233h1v1h-1zM485 233h1v1h-1zM492 233h1v1h-1zM501 233h1v1h-1zM512 233h1v1h-1zM516 233h1v1h-1zM518 233h1v1h-1zM521 233h1v1h-1zM554 233h1v1h-1zM562 233h1v1h-1zM296 234h1v1h-1zM302 234h1v1h-1zM337 234h1v1h-1zM415 234h1v1h-1zM427 234h1v1h-1zM437 234h2v1h-2zM467 234h1v1h-1zM477 234h1v1h-1zM479 234h1v1h-1zM483 234h1v1h-1zM485 234h1v1h-1zM501 234h1v1h-1zM512 234h1v1h-1zM516 234h1v1h-1zM518 234h1v1h-1zM521 234h1v1h-1zM554 234h1v1h-1zM562 234h1v1h-1zM296 235h1v1h-1zM302 235h1v1h-1zM337 235h1v1h-1zM415 235h1v1h-1zM427 235h1v1h-1zM438 235h1v1h-1zM467 235h1v1h-1zM477 235h1v1h-1zM479 235h1v1h-1zM483 235h1v1h-1zM485 235h1v1h-1zM501 235h1v1h-1zM512 235h1v1h-1zM516 235h1v1h-1zM518 235h1v1h-1zM521 235h1v1h-1zM554 235h1v1h-1zM562 235h1v1h-1zM296 236h1v1h-1zM302 236h1v1h-1zM337 236h1v1h-1zM415 236h1v1h-1zM427 236h1v1h-1zM438 236h1v1h-1zM467 236h1v1h-1zM477 236h1v1h-1zM479 236h1v1h-1zM483 236h1v1h-1zM485 236h1v1h-1zM501 236h1v1h-1zM512 236h1v1h-1zM516 236h1v1h-1zM518 236h1v1h-1zM521 236h1v1h-1zM554 236h1v1h-1zM562 236h1v1h-1zM296 237h1v1h-1zM302 237h1v1h-1zM337 237h1v1h-1zM415 237h1v1h-1zM426 237h1v1h-1zM438 237h1v1h-1zM467 237h1v1h-1zM477 237h1v1h-1zM479 237h1v1h-1zM483 237h2v1h-2zM501 237h1v1h-1zM512 237h1v1h-1zM516 237h1v1h-1zM518 237h1v1h-1zM521 237h1v1h-1zM554 237h1v1h-1zM562 237h1v1h-1zM296 238h1v1h-1zM302 238h1v1h-1zM337 238h1v1h-1zM415 238h1v1h-1zM426 238h1v1h-1zM438 238h1v1h-1zM467 238h1v1h-1zM477 238h1v1h-1zM479 238h1v1h-1zM484 238h1v1h-1zM501 238h1v1h-1zM512 238h1v1h-1zM516 238h1v1h-1zM518 238h1v1h-1zM521 238h1v1h-1zM554 238h1v1h-1zM562 238h1v1h-1zM296 239h1v1h-1zM302 239h1v1h-1zM337 239h1v1h-1zM415 239h1v1h-1zM426 239h1v1h-1zM467 239h1v1h-1zM478 239h2v1h-2zM484 239h1v1h-1zM501 239h1v1h-1zM512 239h1v1h-1zM516 239h1v1h-1zM518 239h1v1h-1zM521 239h1v1h-1zM554 239h1v1h-1zM562 239h1v1h-1zM296 240h1v1h-1zM302 240h1v1h-1zM337 240h1v1h-1zM415 240h1v1h-1zM426 240h1v1h-1zM467 240h1v1h-1zM478 240h2v1h-2zM484 240h1v1h-1zM501 240h1v1h-1zM512 240h1v1h-1zM516 240h1v1h-1zM518 240h1v1h-1zM521 240h1v1h-1zM554 240h1v1h-1zM562 240h1v1h-1zM296 241h1v1h-1zM302 241h1v1h-1zM337 241h1v1h-1zM415 241h1v1h-1zM426 241h1v1h-1zM467 241h1v1h-1zM478 241h2v1h-2zM501 241h1v1h-1zM512 241h1v1h-1zM516 241h1v1h-1zM518 241h1v1h-1zM521 241h1v1h-1zM554 241h1v1h-1zM562 241h1v1h-1zM296 242h1v1h-1zM302 242h1v1h-1zM337 242h1v1h-1zM415 242h1v1h-1zM426 242h1v1h-1zM467 242h1v1h-1zM478 242h2v1h-2zM501 242h1v1h-1zM512 242h1v1h-1zM516 242h1v1h-1zM518 242h1v1h-1zM521 242h1v1h-1zM554 242h1v1h-1zM562 242h1v1h-1zM296 243h1v1h-1zM302 243h1v1h-1zM337 243h1v1h-1zM415 243h1v1h-1zM426 243h1v1h-1zM467 243h1v1h-1zM478 243h2v1h-2zM501 243h1v1h-1zM512 243h1v1h-1zM516 243h1v1h-1zM518 243h1v1h-1zM521 243h1v1h-1zM554 243h1v1h-1zM562 243h1v1h-1zM296 244h1v1h-1zM302 244h1v1h-1zM337 244h1v1h-1zM415 244h1v1h-1zM426 244h1v1h-1zM478 244h2v1h-2zM501 244h1v1h-1zM512 244h1v1h-1zM516 244h1v1h-1zM518 244h1v1h-1zM521 244h1v1h-1zM554 244h1v1h-1zM562 244h1v1h-1zM296 245h1v1h-1zM302 245h1v1h-1zM337 245h1v1h-1zM415 245h1v1h-1zM426 245h1v1h-1zM478 245h2v1h-2zM501 245h1v1h-1zM512 245h1v1h-1zM516 245h2v1h-2zM521 245h1v1h-1zM554 245h1v1h-1zM562 245h1v1h-1zM296 246h1v1h-1zM302 246h1v1h-1zM337 246h1v1h-1zM415 246h1v1h-1zM426 246h1v1h-1zM478 246h2v1h-2zM501 246h1v1h-1zM512 246h1v1h-1zM516 246h2v1h-2zM522 246h1v1h-1zM554 246h1v1h-1zM562 246h1v1h-1zM296 247h1v1h-1zM302 247h1v1h-1zM337 247h1v1h-1zM415 247h1v1h-1zM426 247h1v1h-1zM478 247h1v1h-1zM501 247h1v1h-1zM512 247h1v1h-1zM516 247h2v1h-2zM522 247h1v1h-1zM554 247h1v1h-1zM562 247h1v1h-1zM296 248h1v1h-1zM302 248h1v1h-1zM337 248h1v1h-1zM415 248h1v1h-1zM426 248h1v1h-1zM478 248h1v1h-1zM501 248h1v1h-1zM512 248h1v1h-1zM516 248h2v1h-2zM522 248h1v1h-1zM554 248h1v1h-1zM562 248h1v1h-1zM296 249h1v1h-1zM302 249h1v1h-1zM337 249h1v1h-1zM415 249h1v1h-1zM426 249h1v1h-1zM478 249h1v1h-1zM501 249h1v1h-1zM512 249h1v1h-1zM516 249h2v1h-2zM522 249h1v1h-1zM554 249h1v1h-1zM563 249h1v1h-1zM296 250h1v1h-1zM302 250h1v1h-1zM337 250h1v1h-1zM416 250h1v1h-1zM425 250h1v1h-1zM478 250h1v1h-1zM501 250h1v1h-1zM512 250h1v1h-1zM516 250h2v1h-2zM522 250h1v1h-1zM554 250h1v1h-1zM563 250h1v1h-1zM296 251h1v1h-1zM302 251h1v1h-1zM337 251h1v1h-1zM417 251h1v1h-1zM425 251h1v1h-1zM478 251h1v1h-1zM501 251h1v1h-1zM512 251h1v1h-1zM516 251h2v1h-2zM522 251h1v1h-1zM554 251h1v1h-1zM563 251h1v1h-1zM296 252h1v1h-1zM302 252h1v1h-1zM337 252h1v1h-1zM417 252h1v1h-1zM421 252h3v1h-3zM425 252h1v1h-1zM478 252h1v1h-1zM501 252h1v1h-1zM512 252h1v1h-1zM516 252h2v1h-2zM523 252h1v1h-1zM554 252h1v1h-1zM563 252h1v1h-1zM296 253h1v1h-1zM302 253h1v1h-1zM336 253h1v1h-1zM417 253h1v1h-1zM421 253h1v1h-1zM424 253h2v1h-2zM478 253h1v1h-1zM501 253h1v1h-1zM512 253h1v1h-1zM516 253h2v1h-2zM523 253h1v1h-1zM554 253h1v1h-1zM563 253h2v1h-2zM296 254h1v1h-1zM302 254h1v1h-1zM336 254h1v1h-1zM418 254h1v1h-1zM420 254h1v1h-1zM424 254h2v1h-2zM501 254h1v1h-1zM512 254h1v1h-1zM516 254h2v1h-2zM523 254h1v1h-1zM554 254h1v1h-1zM564 254h1v1h-1zM296 255h1v1h-1zM302 255h1v1h-1zM336 255h1v1h-1zM418 255h2v1h-2zM425 255h1v1h-1zM501 255h1v1h-1zM512 255h1v1h-1zM516 255h1v1h-1zM523 255h1v1h-1zM554 255h1v1h-1zM564 255h1v1h-1zM296 256h1v1h-1zM302 256h1v1h-1zM336 256h1v1h-1zM418 256h2v1h-2zM425 256h1v1h-1zM501 256h1v1h-1zM512 256h1v1h-1zM516 256h1v1h-1zM523 256h1v1h-1zM554 256h1v1h-1zM564 256h1v1h-1zM296 257h1v1h-1zM302 257h1v1h-1zM336 257h1v1h-1zM418 257h1v1h-1zM501 257h1v1h-1zM511 257h1v1h-1zM516 257h1v1h-1zM523 257h1v1h-1zM554 257h1v1h-1zM564 257h1v1h-1zM296 258h1v1h-1zM302 258h1v1h-1zM336 258h1v1h-1zM501 258h1v1h-1zM511 258h1v1h-1zM516 258h1v1h-1zM523 258h1v1h-1zM554 258h1v1h-1zM564 258h1v1h-1zM295 259h1v1h-1zM302 259h1v1h-1zM335 259h1v1h-1zM501 259h1v1h-1zM511 259h1v1h-1zM523 259h1v1h-1zM553 259h1v1h-1zM564 259h1v1h-1zM295 260h1v1h-1zM302 260h1v1h-1zM335 260h1v1h-1zM501 260h1v1h-1zM511 260h1v1h-1zM523 260h1v1h-1zM553 260h1v1h-1zM564 260h1v1h-1zM295 261h1v1h-1zM302 261h1v1h-1zM335 261h1v1h-1zM501 261h1v1h-1zM511 261h1v1h-1zM524 261h1v1h-1zM553 261h1v1h-1zM564 261h1v1h-1zM295 262h1v1h-1zM302 262h1v1h-1zM335 262h1v1h-1zM501 262h1v1h-1zM511 262h1v1h-1zM524 262h1v1h-1zM553 262h1v1h-1zM564 262h1v1h-1zM295 263h1v1h-1zM303 263h1v1h-1zM335 263h1v1h-1zM501 263h1v1h-1zM511 263h1v1h-1zM524 263h1v1h-1zM553 263h1v1h-1zM564 263h1v1h-1zM295 264h1v1h-1zM303 264h1v1h-1zM335 264h1v1h-1zM502 264h1v1h-1zM510 264h1v1h-1zM524 264h1v1h-1zM553 264h1v1h-1zM564 264h1v1h-1zM295 265h1v1h-1zM303 265h1v1h-1zM335 265h1v1h-1zM502 265h1v1h-1zM510 265h1v1h-1zM524 265h1v1h-1zM553 265h1v1h-1zM564 265h1v1h-1zM295 266h1v1h-1zM303 266h1v1h-1zM335 266h1v1h-1zM502 266h1v1h-1zM510 266h1v1h-1zM524 266h1v1h-1zM553 266h1v1h-1zM564 266h1v1h-1zM295 267h1v1h-1zM303 267h1v1h-1zM335 267h1v1h-1zM502 267h1v1h-1zM510 267h1v1h-1zM524 267h1v1h-1zM553 267h1v1h-1zM564 267h1v1h-1zM295 268h1v1h-1zM304 268h1v1h-1zM335 268h1v1h-1zM502 268h1v1h-1zM510 268h1v1h-1zM524 268h1v1h-1zM553 268h1v1h-1zM565 268h1v1h-1zM295 269h1v1h-1zM304 269h1v1h-1zM335 269h1v1h-1zM502 269h1v1h-1zM510 269h1v1h-1zM524 269h1v1h-1zM553 269h1v1h-1zM565 269h1v1h-1zM295 270h1v1h-1zM304 270h1v1h-1zM335 270h1v1h-1zM502 270h1v1h-1zM510 270h1v1h-1zM524 270h1v1h-1zM553 270h1v1h-1zM565 270h1v1h-1zM295 271h1v1h-1zM304 271h1v1h-1zM335 271h1v1h-1zM502 271h1v1h-1zM510 271h1v1h-1zM524 271h1v1h-1zM553 271h1v1h-1zM565 271h1v1h-1zM295 272h1v1h-1zM304 272h1v1h-1zM335 272h1v1h-1zM502 272h1v1h-1zM509 272h1v1h-1zM524 272h1v1h-1zM553 272h1v1h-1zM565 272h1v1h-1zM295 273h1v1h-1zM304 273h1v1h-1zM335 273h1v1h-1zM502 273h1v1h-1zM509 273h1v1h-1zM524 273h1v1h-1zM553 273h1v1h-1zM565 273h1v1h-1zM295 274h1v1h-1zM304 274h1v1h-1zM335 274h1v1h-1zM502 274h1v1h-1zM509 274h1v1h-1zM524 274h1v1h-1zM553 274h1v1h-1zM565 274h1v1h-1zM295 275h1v1h-1zM304 275h1v1h-1zM335 275h1v1h-1zM502 275h2v1h-2zM509 275h1v1h-1zM524 275h1v1h-1zM553 275h1v1h-1zM565 275h1v1h-1zM294 276h1v1h-1zM304 276h1v1h-1zM335 276h1v1h-1zM504 276h2v1h-2zM509 276h1v1h-1zM524 276h1v1h-1zM553 276h1v1h-1zM565 276h1v1h-1zM294 277h1v1h-1zM304 277h1v1h-1zM335 277h1v1h-1zM505 277h1v1h-1zM509 277h1v1h-1zM524 277h1v1h-1zM552 277h1v1h-1zM565 277h1v1h-1zM294 278h1v1h-1zM304 278h1v1h-1zM335 278h1v1h-1zM505 278h1v1h-1zM509 278h1v1h-1zM525 278h1v1h-1zM552 278h1v1h-1zM565 278h1v1h-1zM294 279h1v1h-1zM305 279h1v1h-1zM335 279h1v1h-1zM506 279h1v1h-1zM509 279h1v1h-1zM525 279h1v1h-1zM552 279h1v1h-1zM565 279h1v1h-1zM294 280h1v1h-1zM305 280h1v1h-1zM335 280h1v1h-1zM506 280h1v1h-1zM509 280h1v1h-1zM525 280h1v1h-1zM552 280h1v1h-1zM565 280h1v1h-1zM294 281h1v1h-1zM305 281h1v1h-1zM335 281h1v1h-1zM506 281h1v1h-1zM509 281h1v1h-1zM525 281h1v1h-1zM552 281h1v1h-1zM565 281h1v1h-1zM294 282h1v1h-1zM305 282h1v1h-1zM335 282h1v1h-1zM506 282h1v1h-1zM509 282h1v1h-1zM525 282h1v1h-1zM552 282h1v1h-1zM565 282h1v1h-1zM294 283h1v1h-1zM305 283h1v1h-1zM334 283h1v1h-1zM506 283h1v1h-1zM509 283h1v1h-1zM526 283h1v1h-1zM552 283h1v1h-1zM565 283h1v1h-1zM294 284h1v1h-1zM305 284h1v1h-1zM334 284h1v1h-1zM507 284h1v1h-1zM509 284h1v1h-1zM526 284h1v1h-1zM535 284h1v1h-1zM551 284h1v1h-1zM565 284h1v1h-1zM294 285h1v1h-1zM305 285h1v1h-1zM334 285h1v1h-1zM507 285h2v1h-2zM526 285h1v1h-1zM535 285h2v1h-2zM551 285h1v1h-1zM566 285h1v1h-1zM294 286h1v1h-1zM305 286h1v1h-1zM334 286h1v1h-1zM507 286h2v1h-2zM526 286h1v1h-1zM534 286h1v1h-1zM537 286h1v1h-1zM551 286h1v1h-1zM566 286h1v1h-1zM294 287h1v1h-1zM305 287h1v1h-1zM334 287h1v1h-1zM507 287h2v1h-2zM527 287h1v1h-1zM534 287h1v1h-1zM538 287h1v1h-1zM551 287h1v1h-1zM566 287h1v1h-1zM294 288h1v1h-1zM305 288h1v1h-1zM334 288h1v1h-1zM507 288h2v1h-2zM527 288h1v1h-1zM533 288h1v1h-1zM538 288h1v1h-1zM551 288h1v1h-1zM566 288h1v1h-1zM235 289h1v1h-1zM294 289h1v1h-1zM305 289h1v1h-1zM334 289h1v1h-1zM507 289h2v1h-2zM527 289h1v1h-1zM533 289h1v1h-1zM539 289h1v1h-1zM551 289h1v1h-1zM566 289h1v1h-1zM234 290h1v1h-1zM236 290h1v1h-1zM294 290h1v1h-1zM305 290h1v1h-1zM334 290h1v1h-1zM507 290h2v1h-2zM527 290h1v1h-1zM533 290h1v1h-1zM539 290h1v1h-1zM546 290h1v1h-1zM550 290h1v1h-1zM567 290h1v1h-1zM234 291h1v1h-1zM236 291h1v1h-1zM294 291h1v1h-1zM305 291h1v1h-1zM334 291h1v1h-1zM507 291h2v1h-2zM527 291h1v1h-1zM533 291h1v1h-1zM540 291h1v1h-1zM546 291h2v1h-2zM550 291h1v1h-1zM567 291h1v1h-1zM233 292h1v1h-1zM237 292h1v1h-1zM243 292h2v1h-2zM293 292h1v1h-1zM305 292h1v1h-1zM334 292h1v1h-1zM507 292h2v1h-2zM527 292h1v1h-1zM533 292h1v1h-1zM540 292h1v1h-1zM545 292h1v1h-1zM548 292h1v1h-1zM550 292h1v1h-1zM567 292h1v1h-1zM232 293h1v1h-1zM238 293h2v1h-2zM241 293h2v1h-2zM244 293h1v1h-1zM293 293h1v1h-1zM305 293h1v1h-1zM334 293h1v1h-1zM507 293h2v1h-2zM528 293h1v1h-1zM533 293h1v1h-1zM541 293h1v1h-1zM545 293h1v1h-1zM548 293h1v1h-1zM550 293h1v1h-1zM567 293h1v1h-1zM670 293h2v1h-2zM231 294h1v1h-1zM240 294h1v1h-1zM245 294h1v1h-1zM293 294h1v1h-1zM305 294h1v1h-1zM333 294h1v1h-1zM508 294h1v1h-1zM528 294h1v1h-1zM532 294h1v1h-1zM542 294h1v1h-1zM544 294h1v1h-1zM548 294h1v1h-1zM550 294h1v1h-1zM567 294h1v1h-1zM670 294h1v1h-1zM672 294h2v1h-2zM208 295h1v1h-1zM223 295h1v1h-1zM230 295h1v1h-1zM245 295h1v1h-1zM293 295h1v1h-1zM305 295h1v1h-1zM333 295h1v1h-1zM528 295h1v1h-1zM532 295h1v1h-1zM542 295h1v1h-1zM544 295h1v1h-1zM548 295h1v1h-1zM550 295h1v1h-1zM567 295h1v1h-1zM670 295h1v1h-1zM674 295h2v1h-2zM207 296h1v1h-1zM209 296h1v1h-1zM223 296h2v1h-2zM230 296h1v1h-1zM245 296h1v1h-1zM293 296h1v1h-1zM305 296h1v1h-1zM309 296h1v1h-1zM313 296h2v1h-2zM333 296h1v1h-1zM528 296h1v1h-1zM532 296h1v1h-1zM543 296h1v1h-1zM548 296h1v1h-1zM550 296h1v1h-1zM568 296h1v1h-1zM670 296h1v1h-1zM675 296h1v1h-1zM207 297h1v1h-1zM210 297h1v1h-1zM223 297h1v1h-1zM225 297h5v1h-5zM245 297h1v1h-1zM293 297h1v1h-1zM305 297h1v1h-1zM308 297h1v1h-1zM310 297h3v1h-3zM315 297h2v1h-2zM333 297h1v1h-1zM528 297h1v1h-1zM532 297h1v1h-1zM549 297h2v1h-2zM568 297h1v1h-1zM670 297h1v1h-1zM675 297h1v1h-1zM206 298h1v1h-1zM210 298h1v1h-1zM222 298h1v1h-1zM245 298h1v1h-1zM293 298h1v1h-1zM305 298h1v1h-1zM308 298h1v1h-1zM316 298h1v1h-1zM333 298h1v1h-1zM528 298h5v1h-5zM549 298h1v1h-1zM568 298h1v1h-1zM623 298h2v1h-2zM670 298h1v1h-1zM675 298h1v1h-1zM206 299h1v1h-1zM211 299h1v1h-1zM222 299h1v1h-1zM246 299h1v1h-1zM293 299h1v1h-1zM306 299h2v1h-2zM316 299h1v1h-1zM327 299h1v1h-1zM333 299h1v1h-1zM549 299h1v1h-1zM568 299h1v1h-1zM623 299h2v1h-2zM670 299h1v1h-1zM675 299h1v1h-1zM205 300h1v1h-1zM212 300h1v1h-1zM222 300h1v1h-1zM246 300h1v1h-1zM288 300h1v1h-1zM293 300h1v1h-1zM316 300h1v1h-1zM327 300h1v1h-1zM333 300h1v1h-1zM549 300h1v1h-1zM568 300h1v1h-1zM623 300h2v1h-2zM670 300h1v1h-1zM676 300h1v1h-1zM205 301h1v1h-1zM212 301h1v1h-1zM221 301h1v1h-1zM246 301h1v1h-1zM288 301h3v1h-3zM293 301h1v1h-1zM316 301h1v1h-1zM326 301h2v1h-2zM333 301h1v1h-1zM549 301h1v1h-1zM568 301h1v1h-1zM622 301h1v1h-1zM624 301h1v1h-1zM670 301h1v1h-1zM676 301h1v1h-1zM205 302h1v1h-1zM212 302h1v1h-1zM221 302h1v1h-1zM246 302h1v1h-1zM287 302h1v1h-1zM291 302h2v1h-2zM317 302h1v1h-1zM326 302h1v1h-1zM328 302h1v1h-1zM333 302h1v1h-1zM549 302h1v1h-1zM569 302h1v1h-1zM622 302h1v1h-1zM624 302h1v1h-1zM629 302h1v1h-1zM669 302h1v1h-1zM676 302h1v1h-1zM204 303h1v1h-1zM212 303h1v1h-1zM220 303h1v1h-1zM246 303h1v1h-1zM287 303h1v1h-1zM291 303h2v1h-2zM317 303h1v1h-1zM325 303h1v1h-1zM328 303h1v1h-1zM333 303h1v1h-1zM569 303h1v1h-1zM622 303h1v1h-1zM624 303h1v1h-1zM629 303h2v1h-2zM669 303h1v1h-1zM676 303h1v1h-1zM204 304h1v1h-1zM213 304h1v1h-1zM220 304h1v1h-1zM246 304h1v1h-1zM287 304h1v1h-1zM292 304h1v1h-1zM318 304h1v1h-1zM325 304h1v1h-1zM328 304h1v1h-1zM333 304h1v1h-1zM569 304h1v1h-1zM622 304h1v1h-1zM624 304h1v1h-1zM628 304h1v1h-1zM630 304h1v1h-1zM669 304h1v1h-1zM676 304h1v1h-1zM10 305h3v1h-3zM204 305h1v1h-1zM213 305h1v1h-1zM220 305h1v1h-1zM246 305h1v1h-1zM286 305h1v1h-1zM319 305h1v1h-1zM324 305h1v1h-1zM328 305h1v1h-1zM333 305h1v1h-1zM569 305h1v1h-1zM621 305h1v1h-1zM624 305h1v1h-1zM628 305h1v1h-1zM630 305h1v1h-1zM669 305h1v1h-1zM676 305h1v1h-1zM715 305h1v1h-1zM13 306h1v1h-1zM204 306h1v1h-1zM213 306h1v1h-1zM220 306h1v1h-1zM246 306h1v1h-1zM286 306h1v1h-1zM320 306h1v1h-1zM322 306h2v1h-2zM328 306h1v1h-1zM333 306h1v1h-1zM569 306h1v1h-1zM621 306h1v1h-1zM625 306h1v1h-1zM628 306h1v1h-1zM631 306h1v1h-1zM669 306h1v1h-1zM676 306h1v1h-1zM688 306h1v1h-1zM697 306h1v1h-1zM715 306h2v1h-2zM14 307h1v1h-1zM204 307h1v1h-1zM213 307h1v1h-1zM219 307h1v1h-1zM246 307h1v1h-1zM285 307h1v1h-1zM321 307h1v1h-1zM329 307h1v1h-1zM333 307h1v1h-1zM570 307h1v1h-1zM611 307h1v1h-1zM621 307h1v1h-1zM625 307h1v1h-1zM628 307h1v1h-1zM631 307h1v1h-1zM669 307h1v1h-1zM676 307h1v1h-1zM688 307h2v1h-2zM697 307h2v1h-2zM714 307h1v1h-1zM717 307h1v1h-1zM14 308h1v1h-1zM194 308h5v1h-5zM204 308h1v1h-1zM213 308h1v1h-1zM219 308h1v1h-1zM246 308h1v1h-1zM259 308h1v1h-1zM285 308h1v1h-1zM329 308h1v1h-1zM333 308h1v1h-1zM570 308h1v1h-1zM611 308h2v1h-2zM621 308h1v1h-1zM625 308h1v1h-1zM627 308h1v1h-1zM631 308h1v1h-1zM669 308h1v1h-1zM676 308h1v1h-1zM688 308h2v1h-2zM696 308h1v1h-1zM698 308h1v1h-1zM709 308h2v1h-2zM714 308h1v1h-1zM717 308h1v1h-1zM14 309h1v1h-1zM193 309h1v1h-1zM199 309h2v1h-2zM204 309h1v1h-1zM213 309h1v1h-1zM219 309h1v1h-1zM247 309h1v1h-1zM259 309h2v1h-2zM271 309h2v1h-2zM285 309h1v1h-1zM329 309h1v1h-1zM333 309h1v1h-1zM571 309h1v1h-1zM575 309h1v1h-1zM610 309h1v1h-1zM612 309h1v1h-1zM621 309h1v1h-1zM625 309h1v1h-1zM627 309h1v1h-1zM632 309h1v1h-1zM669 309h1v1h-1zM676 309h1v1h-1zM687 309h1v1h-1zM690 309h1v1h-1zM696 309h1v1h-1zM699 309h1v1h-1zM709 309h1v1h-1zM711 309h1v1h-1zM713 309h1v1h-1zM718 309h1v1h-1zM15 310h1v1h-1zM193 310h1v1h-1zM201 310h1v1h-1zM203 310h1v1h-1zM214 310h1v1h-1zM218 310h1v1h-1zM247 310h1v1h-1zM258 310h1v1h-1zM261 310h1v1h-1zM269 310h2v1h-2zM273 310h1v1h-1zM285 310h1v1h-1zM329 310h1v1h-1zM333 310h1v1h-1zM571 310h1v1h-1zM575 310h2v1h-2zM610 310h1v1h-1zM613 310h1v1h-1zM621 310h1v1h-1zM625 310h1v1h-1zM627 310h1v1h-1zM632 310h1v1h-1zM669 310h1v1h-1zM676 310h1v1h-1zM687 310h1v1h-1zM690 310h1v1h-1zM695 310h1v1h-1zM699 310h1v1h-1zM708 310h1v1h-1zM711 310h3v1h-3zM718 310h1v1h-1zM15 311h1v1h-1zM192 311h1v1h-1zM201 311h1v1h-1zM203 311h1v1h-1zM214 311h1v1h-1zM218 311h1v1h-1zM247 311h1v1h-1zM258 311h1v1h-1zM261 311h8v1h-8zM274 311h5v1h-5zM284 311h1v1h-1zM329 311h1v1h-1zM333 311h1v1h-1zM572 311h1v1h-1zM574 311h1v1h-1zM576 311h1v1h-1zM610 311h1v1h-1zM613 311h1v1h-1zM620 311h1v1h-1zM625 311h1v1h-1zM627 311h1v1h-1zM633 311h1v1h-1zM647 311h2v1h-2zM669 311h1v1h-1zM676 311h1v1h-1zM687 311h1v1h-1zM690 311h1v1h-1zM695 311h1v1h-1zM700 311h1v1h-1zM708 311h1v1h-1zM718 311h1v1h-1zM15 312h1v1h-1zM18 312h2v1h-2zM80 312h1v1h-1zM192 312h1v1h-1zM202 312h2v1h-2zM215 312h1v1h-1zM218 312h1v1h-1zM247 312h1v1h-1zM257 312h1v1h-1zM279 312h3v1h-3zM284 312h1v1h-1zM330 312h1v1h-1zM333 312h1v1h-1zM572 312h1v1h-1zM574 312h1v1h-1zM577 312h1v1h-1zM610 312h1v1h-1zM613 312h1v1h-1zM620 312h1v1h-1zM625 312h1v1h-1zM627 312h1v1h-1zM633 312h1v1h-1zM647 312h1v1h-1zM649 312h1v1h-1zM653 312h1v1h-1zM664 312h1v1h-1zM668 312h1v1h-1zM676 312h1v1h-1zM687 312h1v1h-1zM691 312h1v1h-1zM694 312h1v1h-1zM700 312h1v1h-1zM707 312h1v1h-1zM719 312h1v1h-1zM15 313h1v1h-1zM18 313h1v1h-1zM20 313h1v1h-1zM79 313h1v1h-1zM81 313h2v1h-2zM192 313h1v1h-1zM202 313h2v1h-2zM216 313h2v1h-2zM247 313h1v1h-1zM252 313h2v1h-2zM256 313h1v1h-1zM282 313h3v1h-3zM331 313h3v1h-3zM573 313h1v1h-1zM577 313h1v1h-1zM609 313h1v1h-1zM614 313h1v1h-1zM620 313h1v1h-1zM626 313h1v1h-1zM634 313h1v1h-1zM646 313h1v1h-1zM649 313h1v1h-1zM652 313h1v1h-1zM654 313h2v1h-2zM664 313h3v1h-3zM668 313h1v1h-1zM676 313h1v1h-1zM678 313h4v1h-4zM687 313h1v1h-1zM691 313h1v1h-1zM694 313h1v1h-1zM701 313h1v1h-1zM707 313h1v1h-1zM719 313h1v1h-1zM16 314h2v1h-2zM21 314h1v1h-1zM78 314h1v1h-1zM83 314h1v1h-1zM191 314h1v1h-1zM203 314h1v1h-1zM217 314h1v1h-1zM247 314h1v1h-1zM250 314h2v1h-2zM254 314h1v1h-1zM256 314h1v1h-1zM333 314h1v1h-1zM573 314h1v1h-1zM577 314h1v1h-1zM609 314h1v1h-1zM614 314h1v1h-1zM620 314h1v1h-1zM626 314h1v1h-1zM635 314h1v1h-1zM646 314h1v1h-1zM650 314h2v1h-2zM656 314h1v1h-1zM663 314h1v1h-1zM667 314h1v1h-1zM677 314h1v1h-1zM682 314h1v1h-1zM686 314h1v1h-1zM691 314h1v1h-1zM693 314h1v1h-1zM701 314h1v1h-1zM706 314h1v1h-1zM720 314h1v1h-1zM17 315h1v1h-1zM21 315h1v1h-1zM77 315h1v1h-1zM83 315h1v1h-1zM191 315h1v1h-1zM248 315h2v1h-2zM255 315h1v1h-1zM578 315h1v1h-1zM606 315h1v1h-1zM608 315h2v1h-2zM615 315h5v1h-5zM626 315h1v1h-1zM635 315h8v1h-8zM644 315h2v1h-2zM650 315h1v1h-1zM657 315h7v1h-7zM682 315h5v1h-5zM692 315h1v1h-1zM702 315h5v1h-5zM720 315h1v1h-1zM22 316h55v1h-55zM84 316h108v1h-108zM579 316h27v1h-27zM607 316h1v1h-1zM643 316h1v1h-1z" fill="#0000ff" fill-opacity="0.606"/>
<path d="M507 219h2v1h-2zM507 220h2v1h-2zM507 221h2v1h-2zM506 222h1v1h-1zM509 222h1v1h-1zM506 223h1v1h-1zM509 223h1v1h-1zM506 224h1v1h-1zM509 224h1v1h-1zM505 225h1v1h-1zM509 225h1v1h-1zM505 226h1v1h-1zM509 226h1v1h-1zM505 227h1v1h-1zM509 227h1v1h-1zM505 228h1v1h-1zM509 228h1v1h-1zM505 229h1v1h-1zM509 229h1v1h-1zM505 230h1v1h-1zM509 230h1v1h-1zM505 231h1v1h-1zM509 231h1v1h-1zM505 232h1v1h-1zM509 232h1v1h-1zM504 233h1v1h-1zM509 233h1v1h-1zM504 234h1v1h-1zM509 234h1v1h-1zM504 235h1v1h-1zM509 235h1v1h-1zM504 236h1v1h-1zM509 236h1v1h-1zM504 237h1v1h-1zM510 237h1v1h-1zM504 238h1v1h-1zM510 238h1v1h-1zM504 239h1v1h-1zM510 239h1v1h-1zM504 240h1v1h-1zM510 240h1v1h-1zM504 241h1v1h-1zM510 241h1v1h-1zM503 242h1v1h-1zM510 242h1v1h-1zM503 243h1v1h-1zM511 243h1v1h-1zM503 244h1v1h-1zM511 244h1v1h-1zM503 245h1v1h-1zM511 245h1v1h-1zM503 246h1v1h-1zM511 246h1v1h-1zM502 247h1v1h-1zM511 247h1v1h-1zM502 248h1v1h-1zM511 248h1v1h-1zM502 249h1v1h-1zM511 249h1v1h-1zM502 250h1v1h-1zM511 250h1v1h-1zM501 251h1v1h-1zM512 251h1v1h-1zM501 252h1v1h-1zM512 252h1v1h-1zM478 253h1v1h-1zM501 253h1v1h-1zM512 253h1v1h-1zM477 254h1v1h-1zM479 254h1v1h-1zM501 254h1v1h-1zM512 254h1v1h-1zM301 255h1v1h-1zM477 255h1v1h-1zM480 255h1v1h-1zM500 255h1v1h-1zM512 255h1v1h-1zM300 256h2v1h-2zM477 256h1v1h-1zM480 256h1v1h-1zM500 256h1v1h-1zM512 256h1v1h-1zM300 257h2v1h-2zM477 257h1v1h-1zM480 257h1v1h-1zM500 257h1v1h-1zM513 257h1v1h-1zM299 258h1v1h-1zM301 258h1v1h-1zM477 258h1v1h-1zM481 258h1v1h-1zM499 258h1v1h-1zM513 258h1v1h-1zM299 259h1v1h-1zM301 259h1v1h-1zM477 259h1v1h-1zM481 259h1v1h-1zM496 259h1v1h-1zM499 259h1v1h-1zM513 259h1v1h-1zM559 259h2v1h-2zM298 260h1v1h-1zM301 260h1v1h-1zM477 260h1v1h-1zM481 260h1v1h-1zM496 260h2v1h-2zM499 260h1v1h-1zM513 260h1v1h-1zM559 260h2v1h-2zM298 261h1v1h-1zM301 261h1v1h-1zM477 261h1v1h-1zM481 261h1v1h-1zM496 261h1v1h-1zM498 261h1v1h-1zM513 261h1v1h-1zM558 261h1v1h-1zM560 261h1v1h-1zM297 262h1v1h-1zM301 262h1v1h-1zM477 262h1v1h-1zM481 262h1v1h-1zM496 262h1v1h-1zM513 262h1v1h-1zM558 262h1v1h-1zM561 262h1v1h-1zM297 263h1v1h-1zM301 263h1v1h-1zM477 263h1v1h-1zM481 263h1v1h-1zM495 263h1v1h-1zM513 263h1v1h-1zM557 263h1v1h-1zM561 263h1v1h-1zM296 264h1v1h-1zM301 264h1v1h-1zM477 264h1v1h-1zM482 264h1v1h-1zM495 264h1v1h-1zM513 264h1v1h-1zM557 264h1v1h-1zM561 264h1v1h-1zM296 265h1v1h-1zM301 265h1v1h-1zM477 265h1v1h-1zM482 265h1v1h-1zM495 265h1v1h-1zM513 265h1v1h-1zM556 265h1v1h-1zM561 265h1v1h-1zM296 266h1v1h-1zM301 266h1v1h-1zM477 266h1v1h-1zM482 266h1v1h-1zM495 266h1v1h-1zM513 266h1v1h-1zM556 266h1v1h-1zM561 266h1v1h-1zM296 267h1v1h-1zM302 267h1v1h-1zM477 267h1v1h-1zM482 267h1v1h-1zM495 267h1v1h-1zM513 267h1v1h-1zM519 267h2v1h-2zM555 267h1v1h-1zM562 267h1v1h-1zM295 268h1v1h-1zM302 268h1v1h-1zM477 268h1v1h-1zM482 268h1v1h-1zM495 268h1v1h-1zM513 268h1v1h-1zM519 268h2v1h-2zM555 268h1v1h-1zM562 268h1v1h-1zM295 269h1v1h-1zM302 269h1v1h-1zM477 269h1v1h-1zM482 269h1v1h-1zM495 269h1v1h-1zM513 269h1v1h-1zM518 269h1v1h-1zM520 269h1v1h-1zM554 269h1v1h-1zM562 269h1v1h-1zM295 270h1v1h-1zM302 270h1v1h-1zM477 270h1v1h-1zM483 270h1v1h-1zM495 270h1v1h-1zM513 270h1v1h-1zM518 270h1v1h-1zM521 270h1v1h-1zM554 270h1v1h-1zM562 270h1v1h-1zM295 271h1v1h-1zM302 271h1v1h-1zM477 271h1v1h-1zM483 271h1v1h-1zM495 271h1v1h-1zM513 271h1v1h-1zM517 271h1v1h-1zM521 271h1v1h-1zM554 271h1v1h-1zM562 271h1v1h-1zM295 272h1v1h-1zM302 272h1v1h-1zM370 272h6v1h-6zM414 272h1v1h-1zM477 272h1v1h-1zM483 272h1v1h-1zM491 272h2v1h-2zM495 272h1v1h-1zM514 272h1v1h-1zM517 272h1v1h-1zM521 272h1v1h-1zM554 272h1v1h-1zM563 272h1v1h-1zM295 273h1v1h-1zM302 273h1v1h-1zM370 273h1v1h-1zM375 273h1v1h-1zM412 273h3v1h-3zM477 273h1v1h-1zM483 273h1v1h-1zM490 273h1v1h-1zM492 273h1v1h-1zM495 273h1v1h-1zM514 273h1v1h-1zM516 273h1v1h-1zM521 273h1v1h-1zM553 273h1v1h-1zM563 273h1v1h-1zM295 274h1v1h-1zM302 274h1v1h-1zM370 274h1v1h-1zM376 274h1v1h-1zM411 274h1v1h-1zM414 274h1v1h-1zM477 274h1v1h-1zM483 274h1v1h-1zM490 274h1v1h-1zM492 274h1v1h-1zM495 274h1v1h-1zM514 274h2v1h-2zM521 274h1v1h-1zM553 274h1v1h-1zM563 274h1v1h-1zM295 275h1v1h-1zM302 275h1v1h-1zM370 275h1v1h-1zM376 275h1v1h-1zM406 275h5v1h-5zM414 275h1v1h-1zM476 275h1v1h-1zM483 275h1v1h-1zM489 275h1v1h-1zM492 275h1v1h-1zM494 275h1v1h-1zM514 275h1v1h-1zM521 275h1v1h-1zM553 275h1v1h-1zM563 275h1v1h-1zM294 276h1v1h-1zM302 276h1v1h-1zM370 276h1v1h-1zM376 276h1v1h-1zM406 276h1v1h-1zM414 276h1v1h-1zM476 276h1v1h-1zM484 276h1v1h-1zM488 276h1v1h-1zM492 276h1v1h-1zM494 276h1v1h-1zM521 276h1v1h-1zM553 276h1v1h-1zM563 276h1v1h-1zM294 277h1v1h-1zM303 277h1v1h-1zM370 277h1v1h-1zM376 277h1v1h-1zM406 277h1v1h-1zM414 277h1v1h-1zM476 277h1v1h-1zM484 277h1v1h-1zM487 277h1v1h-1zM492 277h1v1h-1zM494 277h1v1h-1zM521 277h1v1h-1zM553 277h1v1h-1zM564 277h1v1h-1zM294 278h1v1h-1zM303 278h1v1h-1zM370 278h1v1h-1zM377 278h1v1h-1zM406 278h1v1h-1zM414 278h1v1h-1zM476 278h1v1h-1zM484 278h3v1h-3zM493 278h2v1h-2zM522 278h1v1h-1zM552 278h1v1h-1zM564 278h1v1h-1zM294 279h1v1h-1zM303 279h1v1h-1zM369 279h1v1h-1zM377 279h1v1h-1zM392 279h2v1h-2zM406 279h1v1h-1zM414 279h1v1h-1zM476 279h1v1h-1zM484 279h1v1h-1zM493 279h2v1h-2zM522 279h1v1h-1zM552 279h1v1h-1zM564 279h1v1h-1zM294 280h1v1h-1zM303 280h1v1h-1zM369 280h1v1h-1zM377 280h1v1h-1zM392 280h2v1h-2zM405 280h1v1h-1zM414 280h1v1h-1zM442 280h1v1h-1zM476 280h1v1h-1zM493 280h2v1h-2zM522 280h1v1h-1zM552 280h1v1h-1zM565 280h1v1h-1zM294 281h1v1h-1zM304 281h1v1h-1zM349 281h1v1h-1zM369 281h1v1h-1zM378 281h1v1h-1zM383 281h2v1h-2zM392 281h2v1h-2zM405 281h1v1h-1zM414 281h1v1h-1zM440 281h2v1h-2zM443 281h1v1h-1zM476 281h1v1h-1zM493 281h2v1h-2zM522 281h1v1h-1zM552 281h1v1h-1zM565 281h1v1h-1zM294 282h1v1h-1zM304 282h1v1h-1zM349 282h2v1h-2zM369 282h1v1h-1zM379 282h1v1h-1zM381 282h2v1h-2zM384 282h1v1h-1zM392 282h2v1h-2zM405 282h1v1h-1zM414 282h1v1h-1zM439 282h1v1h-1zM443 282h1v1h-1zM476 282h1v1h-1zM493 282h2v1h-2zM522 282h1v1h-1zM552 282h1v1h-1zM565 282h1v1h-1zM294 283h1v1h-1zM304 283h1v1h-1zM349 283h1v1h-1zM351 283h1v1h-1zM369 283h1v1h-1zM380 283h1v1h-1zM385 283h1v1h-1zM392 283h2v1h-2zM405 283h1v1h-1zM414 283h1v1h-1zM439 283h1v1h-1zM443 283h1v1h-1zM476 283h1v1h-1zM493 283h2v1h-2zM522 283h1v1h-1zM551 283h1v1h-1zM565 283h1v1h-1zM294 284h1v1h-1zM304 284h1v1h-1zM348 284h1v1h-1zM351 284h1v1h-1zM366 284h4v1h-4zM385 284h1v1h-1zM391 284h1v1h-1zM393 284h1v1h-1zM405 284h1v1h-1zM414 284h1v1h-1zM439 284h1v1h-1zM444 284h1v1h-1zM459 284h3v1h-3zM476 284h1v1h-1zM493 284h1v1h-1zM522 284h1v1h-1zM551 284h1v1h-1zM566 284h1v1h-1zM294 285h1v1h-1zM304 285h1v1h-1zM348 285h1v1h-1zM352 285h1v1h-1zM365 285h1v1h-1zM386 285h1v1h-1zM391 285h1v1h-1zM393 285h1v1h-1zM405 285h1v1h-1zM414 285h1v1h-1zM439 285h1v1h-1zM444 285h1v1h-1zM457 285h2v1h-2zM461 285h1v1h-1zM476 285h1v1h-1zM523 285h1v1h-1zM551 285h1v1h-1zM566 285h1v1h-1zM294 286h1v1h-1zM304 286h1v1h-1zM348 286h1v1h-1zM352 286h1v1h-1zM365 286h1v1h-1zM386 286h1v1h-1zM391 286h1v1h-1zM393 286h1v1h-1zM405 286h1v1h-1zM414 286h1v1h-1zM438 286h1v1h-1zM445 286h1v1h-1zM455 286h2v1h-2zM462 286h1v1h-1zM476 286h1v1h-1zM523 286h1v1h-1zM551 286h1v1h-1zM566 286h1v1h-1zM294 287h1v1h-1zM305 287h1v1h-1zM342 287h1v1h-1zM348 287h1v1h-1zM353 287h1v1h-1zM364 287h1v1h-1zM387 287h1v1h-1zM391 287h1v1h-1zM394 287h1v1h-1zM405 287h1v1h-1zM414 287h1v1h-1zM438 287h1v1h-1zM445 287h1v1h-1zM454 287h1v1h-1zM462 287h1v1h-1zM476 287h1v1h-1zM523 287h1v1h-1zM551 287h1v1h-1zM566 287h1v1h-1zM293 288h1v1h-1zM305 288h1v1h-1zM342 288h2v1h-2zM347 288h1v1h-1zM353 288h1v1h-1zM364 288h1v1h-1zM387 288h1v1h-1zM391 288h1v1h-1zM394 288h1v1h-1zM405 288h1v1h-1zM414 288h1v1h-1zM422 288h1v1h-1zM438 288h1v1h-1zM446 288h1v1h-1zM454 288h1v1h-1zM462 288h1v1h-1zM476 288h1v1h-1zM523 288h1v1h-1zM551 288h1v1h-1zM567 288h1v1h-1zM293 289h1v1h-1zM305 289h1v1h-1zM342 289h1v1h-1zM344 289h1v1h-1zM347 289h1v1h-1zM353 289h1v1h-1zM364 289h1v1h-1zM387 289h1v1h-1zM391 289h1v1h-1zM394 289h1v1h-1zM405 289h1v1h-1zM414 289h1v1h-1zM422 289h1v1h-1zM438 289h1v1h-1zM446 289h1v1h-1zM453 289h1v1h-1zM463 289h1v1h-1zM469 289h1v1h-1zM476 289h1v1h-1zM524 289h1v1h-1zM551 289h1v1h-1zM567 289h1v1h-1zM293 290h1v1h-1zM305 290h1v1h-1zM341 290h1v1h-1zM344 290h1v1h-1zM347 290h1v1h-1zM353 290h1v1h-1zM364 290h1v1h-1zM388 290h1v1h-1zM390 290h1v1h-1zM394 290h1v1h-1zM405 290h1v1h-1zM414 290h1v1h-1zM421 290h1v1h-1zM423 290h1v1h-1zM438 290h1v1h-1zM447 290h2v1h-2zM453 290h1v1h-1zM463 290h1v1h-1zM468 290h1v1h-1zM470 290h2v1h-2zM476 290h1v1h-1zM524 290h1v1h-1zM551 290h1v1h-1zM567 290h1v1h-1zM293 291h1v1h-1zM305 291h1v1h-1zM341 291h1v1h-1zM345 291h1v1h-1zM347 291h1v1h-1zM354 291h1v1h-1zM363 291h1v1h-1zM388 291h1v1h-1zM390 291h1v1h-1zM394 291h1v1h-1zM405 291h1v1h-1zM414 291h1v1h-1zM421 291h1v1h-1zM423 291h1v1h-1zM438 291h1v1h-1zM449 291h2v1h-2zM452 291h1v1h-1zM464 291h1v1h-1zM468 291h1v1h-1zM472 291h5v1h-5zM524 291h1v1h-1zM551 291h1v1h-1zM567 291h1v1h-1zM293 292h1v1h-1zM305 292h1v1h-1zM341 292h1v1h-1zM345 292h2v1h-2zM354 292h1v1h-1zM363 292h1v1h-1zM388 292h1v1h-1zM390 292h1v1h-1zM394 292h1v1h-1zM401 292h5v1h-5zM414 292h1v1h-1zM420 292h1v1h-1zM423 292h1v1h-1zM438 292h1v1h-1zM451 292h2v1h-2zM465 292h1v1h-1zM467 292h1v1h-1zM524 292h1v1h-1zM550 292h1v1h-1zM567 292h1v1h-1zM293 293h1v1h-1zM305 293h1v1h-1zM341 293h1v1h-1zM346 293h1v1h-1zM354 293h1v1h-1zM363 293h1v1h-1zM388 293h1v1h-1zM390 293h1v1h-1zM395 293h1v1h-1zM400 293h1v1h-1zM414 293h1v1h-1zM419 293h1v1h-1zM424 293h1v1h-1zM428 293h1v1h-1zM438 293h1v1h-1zM466 293h1v1h-1zM524 293h1v1h-1zM550 293h1v1h-1zM568 293h1v1h-1zM293 294h1v1h-1zM306 294h1v1h-1zM341 294h1v1h-1zM346 294h1v1h-1zM355 294h1v1h-1zM362 294h1v1h-1zM389 294h1v1h-1zM395 294h1v1h-1zM399 294h1v1h-1zM415 294h1v1h-1zM419 294h1v1h-1zM424 294h1v1h-1zM428 294h1v1h-1zM438 294h1v1h-1zM524 294h1v1h-1zM550 294h1v1h-1zM568 294h1v1h-1zM293 295h1v1h-1zM306 295h1v1h-1zM341 295h1v1h-1zM355 295h1v1h-1zM362 295h1v1h-1zM389 295h1v1h-1zM395 295h1v1h-1zM398 295h1v1h-1zM415 295h1v1h-1zM418 295h1v1h-1zM424 295h1v1h-1zM427 295h1v1h-1zM429 295h1v1h-1zM432 295h7v1h-7zM524 295h1v1h-1zM550 295h1v1h-1zM568 295h1v1h-1zM574 295h3v1h-3zM293 296h1v1h-1zM306 296h1v1h-1zM340 296h1v1h-1zM355 296h1v1h-1zM362 296h1v1h-1zM389 296h1v1h-1zM395 296h1v1h-1zM398 296h1v1h-1zM415 296h1v1h-1zM418 296h1v1h-1zM424 296h1v1h-1zM427 296h1v1h-1zM429 296h1v1h-1zM432 296h1v1h-1zM525 296h1v1h-1zM550 296h1v1h-1zM569 296h5v1h-5zM576 296h1v1h-1zM293 297h1v1h-1zM306 297h1v1h-1zM340 297h1v1h-1zM355 297h1v1h-1zM362 297h1v1h-1zM396 297h2v1h-2zM415 297h1v1h-1zM417 297h1v1h-1zM424 297h1v1h-1zM426 297h1v1h-1zM429 297h1v1h-1zM431 297h1v1h-1zM525 297h1v1h-1zM550 297h1v1h-1zM576 297h1v1h-1zM293 298h1v1h-1zM306 298h1v1h-1zM340 298h1v1h-1zM356 298h1v1h-1zM361 298h1v1h-1zM396 298h2v1h-2zM415 298h1v1h-1zM417 298h1v1h-1zM425 298h2v1h-2zM430 298h2v1h-2zM525 298h1v1h-1zM550 298h1v1h-1zM576 298h1v1h-1zM279 299h1v1h-1zM293 299h1v1h-1zM306 299h1v1h-1zM339 299h1v1h-1zM356 299h6v1h-6zM396 299h1v1h-1zM415 299h1v1h-1zM417 299h1v1h-1zM425 299h2v1h-2zM430 299h1v1h-1zM525 299h1v1h-1zM550 299h1v1h-1zM576 299h1v1h-1zM279 300h3v1h-3zM292 300h1v1h-1zM306 300h1v1h-1zM338 300h1v1h-1zM415 300h2v1h-2zM425 300h1v1h-1zM525 300h1v1h-1zM550 300h1v1h-1zM576 300h1v1h-1zM278 301h1v1h-1zM282 301h1v1h-1zM292 301h1v1h-1zM306 301h1v1h-1zM337 301h1v1h-1zM415 301h2v1h-2zM425 301h1v1h-1zM525 301h1v1h-1zM550 301h1v1h-1zM576 301h1v1h-1zM268 302h1v1h-1zM278 302h1v1h-1zM283 302h1v1h-1zM292 302h1v1h-1zM307 302h1v1h-1zM336 302h1v1h-1zM525 302h1v1h-1zM528 302h1v1h-1zM550 302h1v1h-1zM576 302h1v1h-1zM267 303h1v1h-1zM269 303h1v1h-1zM278 303h1v1h-1zM283 303h1v1h-1zM292 303h1v1h-1zM307 303h1v1h-1zM336 303h1v1h-1zM526 303h1v1h-1zM528 303h2v1h-2zM550 303h1v1h-1zM576 303h1v1h-1zM266 304h1v1h-1zM270 304h1v1h-1zM278 304h1v1h-1zM283 304h1v1h-1zM292 304h1v1h-1zM307 304h1v1h-1zM335 304h1v1h-1zM526 304h1v1h-1zM528 304h1v1h-1zM530 304h1v1h-1zM550 304h1v1h-1zM576 304h1v1h-1zM266 305h1v1h-1zM271 305h1v1h-1zM278 305h1v1h-1zM283 305h1v1h-1zM292 305h1v1h-1zM307 305h1v1h-1zM335 305h1v1h-1zM526 305h2v1h-2zM530 305h1v1h-1zM549 305h1v1h-1zM576 305h1v1h-1zM265 306h1v1h-1zM272 306h1v1h-1zM278 306h1v1h-1zM283 306h1v1h-1zM291 306h1v1h-1zM307 306h1v1h-1zM323 306h2v1h-2zM334 306h1v1h-1zM527 306h1v1h-1zM531 306h1v1h-1zM549 306h1v1h-1zM576 306h1v1h-1zM264 307h1v1h-1zM272 307h1v1h-1zM277 307h1v1h-1zM283 307h1v1h-1zM291 307h1v1h-1zM307 307h1v1h-1zM321 307h2v1h-2zM325 307h1v1h-1zM334 307h1v1h-1zM531 307h1v1h-1zM548 307h1v1h-1zM576 307h1v1h-1zM673 307h3v1h-3zM263 308h1v1h-1zM273 308h1v1h-1zM277 308h1v1h-1zM284 308h2v1h-2zM290 308h1v1h-1zM308 308h1v1h-1zM321 308h1v1h-1zM326 308h3v1h-3zM334 308h1v1h-1zM532 308h1v1h-1zM547 308h1v1h-1zM576 308h1v1h-1zM624 308h2v1h-2zM630 308h1v1h-1zM670 308h3v1h-3zM675 308h1v1h-1zM263 309h1v1h-1zM273 309h1v1h-1zM277 309h1v1h-1zM284 309h3v1h-3zM290 309h1v1h-1zM308 309h1v1h-1zM321 309h1v1h-1zM329 309h1v1h-1zM333 309h1v1h-1zM533 309h2v1h-2zM547 309h1v1h-1zM576 309h1v1h-1zM623 309h1v1h-1zM625 309h1v1h-1zM629 309h1v1h-1zM631 309h1v1h-1zM670 309h1v1h-1zM676 309h1v1h-1zM712 309h1v1h-1zM262 310h1v1h-1zM274 310h1v1h-1zM277 310h1v1h-1zM284 310h3v1h-3zM288 310h2v1h-2zM308 310h1v1h-1zM320 310h1v1h-1zM329 310h1v1h-1zM333 310h1v1h-1zM535 310h2v1h-2zM543 310h4v1h-4zM577 310h1v1h-1zM622 310h1v1h-1zM626 310h1v1h-1zM628 310h1v1h-1zM632 310h1v1h-1zM669 310h1v1h-1zM676 310h1v1h-1zM712 310h2v1h-2zM205 311h5v1h-5zM261 311h1v1h-1zM274 311h4v1h-4zM284 311h1v1h-1zM287 311h1v1h-1zM308 311h1v1h-1zM320 311h1v1h-1zM330 311h1v1h-1zM333 311h1v1h-1zM537 311h2v1h-2zM542 311h1v1h-1zM577 311h1v1h-1zM621 311h1v1h-1zM626 311h1v1h-1zM628 311h1v1h-1zM633 311h1v1h-1zM669 311h1v1h-1zM676 311h1v1h-1zM711 311h1v1h-1zM714 311h1v1h-1zM205 312h1v1h-1zM210 312h1v1h-1zM284 312h1v1h-1zM309 312h1v1h-1zM320 312h1v1h-1zM331 312h1v1h-1zM333 312h1v1h-1zM539 312h3v1h-3zM577 312h1v1h-1zM621 312h1v1h-1zM626 312h1v1h-1zM628 312h1v1h-1zM634 312h1v1h-1zM668 312h1v1h-1zM676 312h1v1h-1zM710 312h1v1h-1zM715 312h1v1h-1zM18 313h1v1h-1zM194 313h1v1h-1zM204 313h1v1h-1zM210 313h1v1h-1zM224 313h1v1h-1zM284 313h1v1h-1zM309 313h1v1h-1zM320 313h1v1h-1zM331 313h2v1h-2zM577 313h1v1h-1zM620 313h1v1h-1zM627 313h1v1h-1zM634 313h1v1h-1zM668 313h1v1h-1zM676 313h1v1h-1zM688 313h1v1h-1zM694 313h2v1h-2zM709 313h1v1h-1zM716 313h2v1h-2zM17 314h1v1h-1zM19 314h1v1h-1zM193 314h1v1h-1zM195 314h1v1h-1zM204 314h1v1h-1zM211 314h1v1h-1zM223 314h1v1h-1zM225 314h1v1h-1zM235 314h1v1h-1zM241 314h5v1h-5zM309 314h8v1h-8zM319 314h1v1h-1zM332 314h1v1h-1zM577 314h1v1h-1zM580 314h6v1h-6zM610 314h4v1h-4zM620 314h1v1h-1zM627 314h1v1h-1zM635 314h1v1h-1zM667 314h1v1h-1zM677 314h1v1h-1zM687 314h1v1h-1zM689 314h2v1h-2zM693 314h1v1h-1zM696 314h2v1h-2zM708 314h1v1h-1zM718 314h2v1h-2zM10 315h5v1h-5zM16 315h1v1h-1zM20 315h1v1h-1zM192 315h1v1h-1zM196 315h8v1h-8zM211 315h12v1h-12zM226 315h9v1h-9zM236 315h1v1h-1zM239 315h2v1h-2zM246 315h10v1h-10zM317 315h3v1h-3zM578 315h2v1h-2zM586 315h9v1h-9zM610 315h1v1h-1zM614 315h1v1h-1zM619 315h1v1h-1zM635 315h1v1h-1zM667 315h1v1h-1zM678 315h1v1h-1zM687 315h1v1h-1zM691 315h2v1h-2zM698 315h2v1h-2zM707 315h1v1h-1zM720 315h1v1h-1zM15 316h1v1h-1zM21 316h1v1h-1zM191 316h1v1h-1zM237 316h2v1h-2zM595 316h2v1h-2zM609 316h1v1h-1zM615 316h1v1h-1zM619 316h1v1h-1zM636 316h1v1h-1zM666 316h1v1h-1zM679 316h1v1h-1zM686 316h1v1h-1zM706 316h1v1h-1z" fill="#0000aa" fill-opacity="0.606"/>
<line x1="10" y1="316.5" x2="720" y2="316.5" stroke="#06aa20"/>
<rect x="10.5" y="379.5" width="5" height="5" fill="#6464ff" stroke="#000" stroke-width="1"/>
<rect x="10.5" y="391.5" width="5" height="5" fill="#6464cb" stroke="#000" stroke-width="1"/>
<rect x="10.5" y="403.5" width="5" height="5" fill="#64ff64" stroke="#000" stroke-width="1"/>
<rect x="10.5" y="415.5" width="5" height="5" fill="#64cb64" stroke="#000" stroke-width="1"/>
<g font-family="Liberation Mono, DejaVu Sans Mono, monospace" shape-rendering="auto">
<text x="180" y="12.500" transform="scale(1,1.12)" font-size="13.333" font-weight="normal" fill="#960000"  xml:space="preserve">am01-fs03:Interfaces In/Out ( 2h history 4h in past )</text>
<text x="19" y="329.060" transform="scale(1,1.17)" font-size="10" font-weight="normal" fill="#000" stroke="#000" stroke-width="0.25" xml:space="preserve">am01-fs03: If eth0 in  [avg] [min:859 Bps max:37.91 MBps last:779.36 KBps]</text>
<text x="19" y="339.316" transform="scale(1,1.17)" font-size="10" font-weight="normal" fill="#000" stroke="#000" stroke-width="0.25" xml:space="preserve">am01-fs03: If eth0 out [avg] [min:696 Bps max:14.81 MBps last:213.42 KBps]</text>
<text x="19" y="349.573" transform="scale(1,1.17)" font-size="10" font-weight="normal" fill="#000" stroke="#000" stroke-width="0.25" xml:space="preserve">am01-fs03: If eth1 in  [avg] [min:769 Bps max:2.59 KBps last:1.03 KBps]</text>
<text x="19" y="359.829" transform="scale(1,1.17)" font-size="10" font-weight="normal" fill="#000" stroke="#000" stroke-width="0.25" xml:space="preserve">am01-fs03: If eth1 out [avg] [min:367 Bps max:1.54 KBps last:693 Bps]</text>
<text x="725" y="293.578" transform="scale(1,1.09)" font-size="8.333" font-weight="bold" fill="#960000"  xml:space="preserve">0 Bps</text>
<text x="725" y="247.706" transform="scale(1,1.09)" font-size="8.333" font-weight="bold" fill="#960000"  xml:space="preserve">7.63 MBps</text>
<text x="725" y="201.835" transform="scale(1,1.09)" font-size="8.333" font-weight="bold" fill="#960000"  xml:space="preserve">15.26 MBps</text>
<text x="725" y="155.963" transform="scale(1,1.09)" font-size="8.333" font-weight="bold" fill="#960000"  xml:space="preserve">22.89 MBps</text>
<text x="725" y="110.092" transform="scale(1,1.09)" font-size="8.333" font-weight="bold" fill="#960000"  xml:space="preserve">30.52 MBps</text>
<text x="725" y="64.220" transform="scale(1,1.09)" font-size="8.333" font-weight="bold" fill="#960000"  xml:space="preserve">38.15 MBps</text>
<text x="725" y="18.349" transform="scale(1,1.09)" font-size="8.333" font-weight="bold" fill="#960000"  xml:space="preserve">45.78 MBps</text>
<text x="664" y="394.495" transform="scale(1,1.09)" font-size="8.333" font-weight="normal" fill="#bfbfbf"  xml:space="preserve">Generated in 0.14 sec</text>
<text x="0.1 5.1 11.3 15.1 20.1 25.1 30.1 35.1 41.3 45.1 50.1" y="0" transform="translate(14,375) rotate(-90) scale(1,1.09)" font-family="Liberation Sans, DejaVu Sans, sans-serif" font-size="8.3" font-weight="bold" fill="#960000" xml:space="preserve">01.15 11:45</text>
<text x="0.1 5.1 11.3 15.1 20.1 25.1 30.1 35.1 41.3 45.1 50.1" y="0" transform="translate(727,375) rotate(-90) scale(1,1.09)" font-family="Liberation Sans, DejaVu Sans, sans-serif" font-size="8.3" font-weight="bold" fill="#960000" xml:space="preserve">01.15 13:45</text>
<text x="0.1 5.1 11.3 15.1 20.1" y="0" transform="translate(43,345) rotate(-90) scale(1,1.09)" font-family="Liberation Sans, DejaVu Sans, sans-serif" font-size="8.3" font-weight="bold" fill="#000" xml:space="preserve">11:50</text>
<text x="0.1 5.1 11.3 15.1 20.1" y="0" transform="translate(73,345) rotate(-90) scale(1,1.09)" font-family="Liberation Sans, DejaVu Sans, sans-serif" font-size="8.3" font-weight="bold" fill="#000" xml:space="preserve">11:55</text>
<text x="0.1 5.1 11.3 15.1 20.1" y="0" transform="translate(103,345) rotate(-90) scale(1,1.09)" font-family="Liberation Sans, DejaVu Sans, sans-serif" font-size="8.3" font-weight="bold" fill="#000" xml:space="preserve">12:00</text>
<text x="0.1 5.1 11.3 15.1 20.1" y="0" transform="translate(132,345) rotate(-90) scale(1,1.09)" font-family="Liberation Sans, DejaVu Sans, sans-serif" font-size="8.3" font-weight="bold" fill="#000" xml:space="preserve">12:05</text>
<text x="0.1 5.1 11.3 15.1 20.1" y="0" transform="translate(162,345) rotate(-90) scale(1,1.09)" font-family="Liberation Sans, DejaVu Sans, sans-serif" font-size="8.3" font-weight="bold" fill="#000" xml:space="preserve">12:10</text>
<text x="0.1 5.1 11.3 15.1 20.1" y="0" transform="translate(192,345) rotate(-90) scale(1,1.09)" font-family="Liberation Sans, DejaVu Sans, sans-serif" font-size="8.3" font-weight="bold" fill="#000" xml:space="preserve">12:15</text>
<text x="0.1 5.1 11.3 15.1 20.1" y="0" transform="translate(221,345) rotate(-90) scale(1,1.09)" font-family="Liberation Sans, DejaVu Sans, sans-serif" font-size="8.3" font-weight="bold" fill="#000" xml:space="preserve">12:20</text>
<text x="0.1 5.1 11.3 15.1 20.1" y="0" transform="translate(251,345) rotate(-90) scale(1,1.09)" font-family="Liberation Sans, DejaVu Sans, sans-serif" font-size="8.3" font-weight="bold" fill="#000" xml:space="preserve">12:25</text>
<text x="0.1 5.1 11.3 15.1 20.1" y="0" transform="translate(281,345) rotate(-90) scale(1,1.09)" font-family="Liberation Sans, DejaVu Sans, sans-serif" font-size="8.3" font-weight="bold" fill="#000" xml:space="preserve">12:30</text>
<text x="0.1 5.1 11.3 15.1 20.1" y="0" transform="translate(311,345) rotate(-90) scale(1,1.09)" font-family="Liberation Sans, DejaVu Sans, sans-serif" font-size="8.3" font-weight="bold" fill="#000" xml:space="preserve">12:35</text>
<text x="0.1 5.1 11.3 15.1 20.1" y="0" transform="translate(340,345) rotate(-90) scale(1,1.09)" font-family="Liberation Sans, DejaVu Sans, sans-serif" font-size="8.3" font-weight="bold" fill="#000" xml:space="preserve">12:40</text>
<text x="0.1 5.1 11.3 15.1 20.1" y="0" transform="translate(370,345) rotate(-90) scale(1,1.09)" font-family="Liberation Sans, DejaVu Sans, sans-serif" font-size="8.3" font-weight="bold" fill="#000" xml:space="preserve">12:45</text>
<text x="0.1 5.1 11.3 15.1 20.1" y="0" transform="translate(400,345) rotate(-90) scale(1,1.09)" font-family="Liberation Sans, DejaVu Sans, sans-serif" font-size="8.3" font-weight="bold" fill="#000" xml:space="preserve">12:50</text>
<text x="0.1 5.1 11.3 15.1 20.1" y="0" transform="translate(429,345) rotate(-90) scale(1,1.09)" font-family="Liberation Sans, DejaVu Sans, sans-serif" font-size="8.3" font-weight="bold" fill="#000" xml:space="preserve">12:55</text>
<text x="0.1 5.1 11.3 15.1 20.1" y="0" transform="translate(459,345) rotate(-90) scale(1,1.09)" font-family="Liberation Sans, DejaVu Sans, sans-serif" font-size="8.3" font-weight="bold" fill="#000" xml:space="preserve">13:00</text>
<text x="0.1 5.1 11.3 15.1 20.1" y="0" transform="translate(489,345) rotate(-90) scale(1,1.09)" font-family="Liberation Sans, DejaVu Sans, sans-serif" font-size="8.3" font-weight="bold" fill="#000" xml:space="preserve">13:05</text>
<text x="0.1 5.1 11.3 15.1 20.1" y="0" transform="translate(519,345) rotate(-90) scale(1,1.09)" font-family="Liberation Sans, DejaVu Sans, sans-serif" font-size="8.3" font-weight="bold" fill="#000" xml:space="preserve">13:10</text>
<text x="0.1 5.1 11.3 15.1 20.1" y="0" transform="translate(548,345) rotate(-90) scale(1,1.09)" font-family="Liberation Sans, DejaVu Sans, sans-serif" font-size="8.3" font-weight="bold" fill="#000" xml:space="preserve">13:15</text>
<text x="0.1 5.1 11.3 15.1 20.1" y="0" transform="translate(578,345) rotate(-90) scale(1,1.09)" font-family="Liberation Sans, DejaVu Sans, sans-serif" font-size="8.3" font-weight="bold" fill="#000" xml:space="preserve">13:20</text>
<text x="0.1 5.1 11.3 15.1 20.1" y="0" transform="translate(608,345) rotate(-90) scale(1,1.09)" font-family="Liberation Sans, DejaVu Sans, sans-serif" font-size="8.3" font-weight="bold" fill="#000" xml:space="preserve">13:25</text>
<text x="0.1 5.1 11.3 15.1 20.1" y="0" transform="translate(637,345) rotate(-90) scale(1,1.09)" font-family="Liberation Sans, DejaVu Sans, sans-serif" font-size="8.3" font-weight="bold" fill="#000" xml:space="preserve">13:30</text>
<text x="0.1 5.1 11.3 15.1 20.1" y="0" transform="translate(667,345) rotate(-90) scale(1,1.09)" font-family="Liberation Sans, DejaVu Sans, sans-serif" font-size="8.3" font-weight="bold" fill="#000" xml:space="preserve">13:35</text>
<text x="0.1 5.1 11.3 15.1 20.1" y="0" transform="translate(697,345) rotate(-90) scale(1,1.09)" font-family="Liberation Sans, DejaVu Sans, sans-serif" font-size="8.3" font-weight="bold" fill="#000" xml:space="preserve">13:40</text>
<text x="0" y="0" transform="translate(781,386) rotate(-90) scale(1,1.09)" font-size="8.333" font-weight="normal" fill="#bfbfbf" xml:space="preserve">http://www.zabbix.com</text>
</g>
</svg>
</div></body></html>
